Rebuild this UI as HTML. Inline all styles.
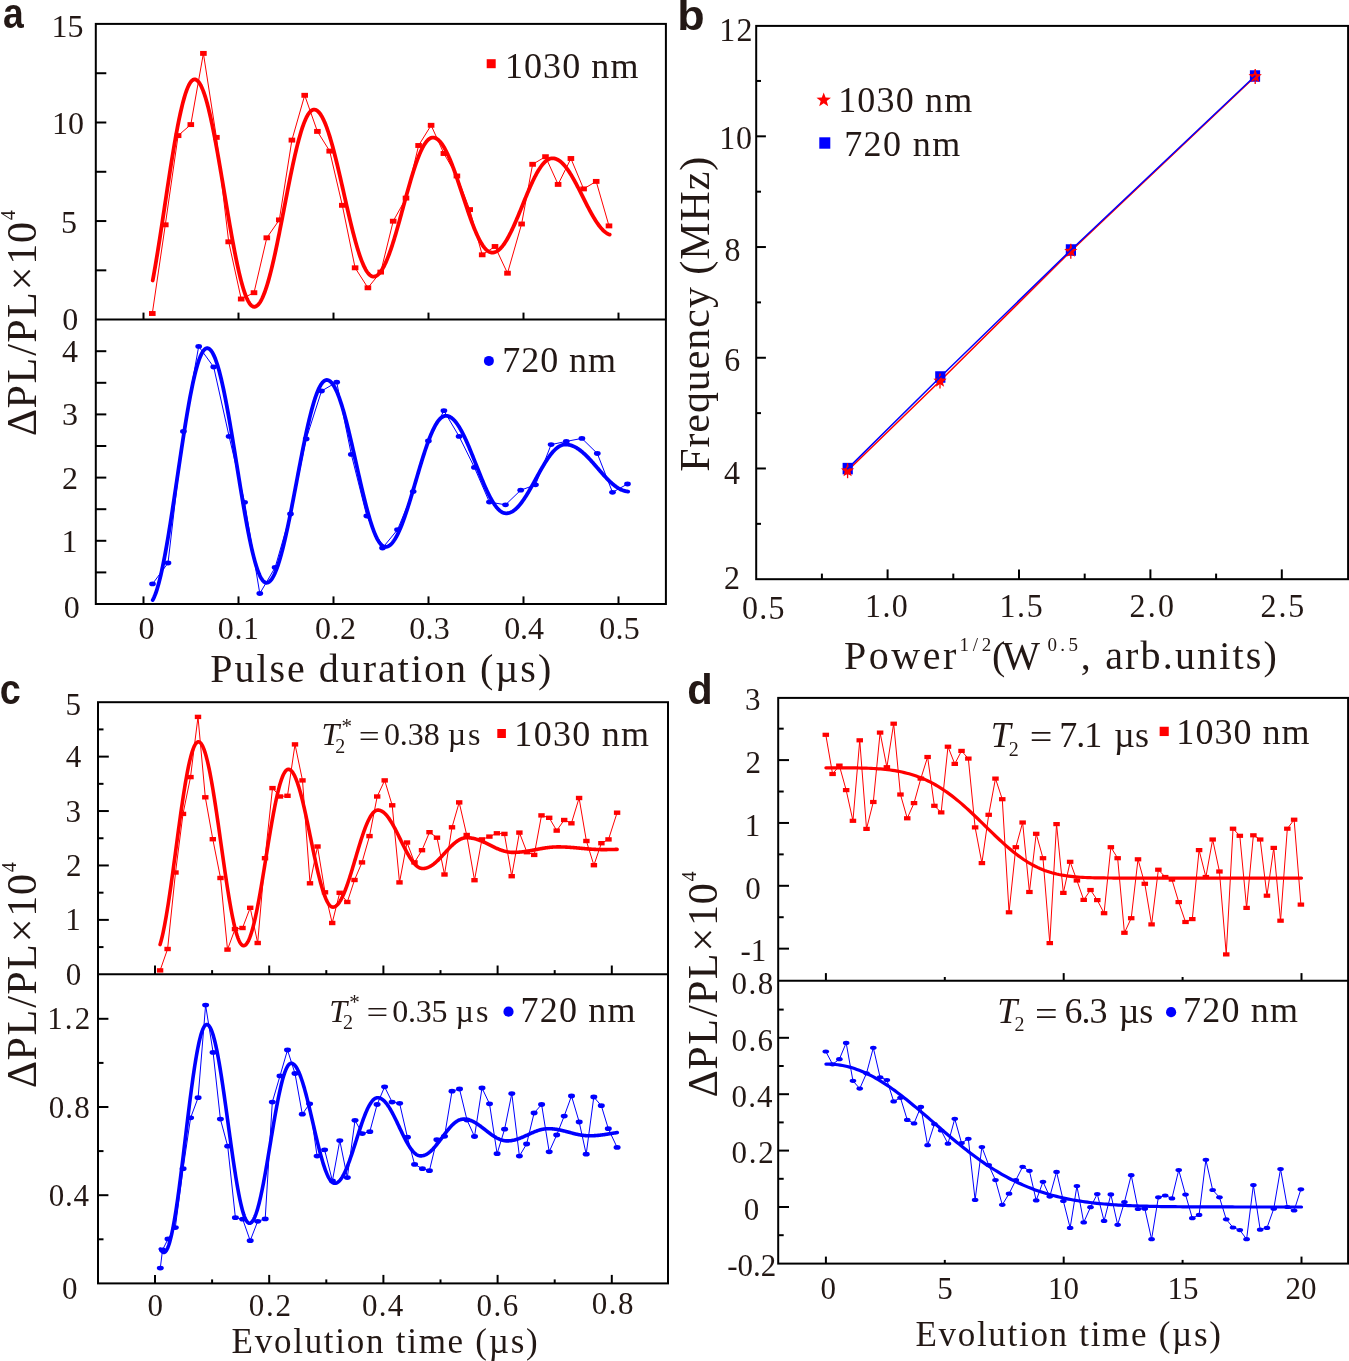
<!DOCTYPE html>
<html><head><meta charset="utf-8"><title>Figure</title>
<style>html,body{margin:0;padding:0;background:#fff;width:1349px;height:1361px;overflow:hidden}svg{display:block;will-change:transform}</style>
</head><body>
<svg width="1349" height="1361" viewBox="0 0 1349 1361">
<rect width="1349" height="1361" fill="#ffffff"/>
<path d="M152.3 313.5 L165.3 224.8 L178.1 135.6 L190.8 124.6 L203.4 53.4 L216.4 137.4 L228.7 241.8 L241.2 299 L254 292.7 L266.8 237.8 L279.3 219.9 L291.9 140.1 L304.7 95.3 L317.4 131.4 L329.7 151.1 L342.3 205.3 L355.1 267.8 L367.9 287.8 L380.7 272.1 L393.2 221.2 L406 198.1 L418.6 145.5 L431.1 125.3 L443.9 153.5 L456.9 176 L469.7 209.6 L482.2 254.8 L495 246.5 L507.5 273.2 L521.6 224 L532.6 164.3 L545.5 156.7 L558.1 184.4 L570.9 158.5 L583.6 188.9 L596.2 181.4 L609 225.9" fill="none" stroke="#ff0000" stroke-width="1" stroke-linejoin="round" stroke-linecap="round"/>
<path d="M152.7 280.5 L153.2 277.81 L153.7 275.06 L154.2 272.27 L154.7 269.43 L155.2 266.55 L155.7 263.62 L156.2 260.65 L156.7 257.65 L157.2 254.61 L157.7 251.53 L158.2 248.42 L158.7 245.29 L159.2 242.12 L159.7 238.93 L160.2 235.71 L160.7 232.48 L161.2 229.23 L161.7 225.96 L162.2 222.67 L162.7 219.37 L163.2 216.07 L163.7 212.75 L164.2 209.44 L164.7 206.11 L165.2 202.79 L165.7 199.47 L166.2 196.16 L166.7 192.85 L167.2 189.55 L167.7 186.26 L168.2 182.98 L168.7 179.72 L169.2 176.48 L169.7 173.25 L170.2 170.05 L170.7 166.88 L171.2 163.73 L171.7 160.61 L172.2 157.52 L172.7 154.46 L173.2 151.44 L173.7 148.46 L174.2 145.52 L174.7 142.62 L175.2 139.76 L175.7 136.95 L176.2 134.18 L176.7 131.47 L177.2 128.8 L177.7 126.19 L178.2 123.64 L178.7 121.14 L179.2 118.7 L179.7 116.32 L180.2 114 L180.7 111.75 L181.2 109.56 L181.7 107.44 L182.2 105.38 L182.7 103.4 L183.2 101.48 L183.7 99.64 L184.2 97.87 L184.7 96.18 L185.2 94.56 L185.7 93.02 L186.2 91.56 L186.7 90.17 L187.2 88.87 L187.7 87.65 L188.2 86.5 L188.7 85.45 L189.2 84.47 L189.7 83.58 L190.2 82.78 L190.7 82.05 L191.2 81.42 L191.7 80.87 L192.2 80.41 L192.7 80.03 L193.2 79.74 L193.7 79.54 L194.2 79.43 L194.7 79.4 L195.2 79.46 L195.7 79.59 L196.2 79.8 L196.7 80.1 L197.2 80.47 L197.7 80.91 L198.2 81.44 L198.7 82.04 L199.2 82.73 L199.7 83.48 L200.2 84.32 L200.7 85.23 L201.2 86.21 L201.7 87.27 L202.2 88.4 L202.7 89.61 L203.2 90.88 L203.7 92.23 L204.2 93.65 L204.7 95.14 L205.2 96.69 L205.7 98.31 L206.2 100 L206.7 101.75 L207.2 103.57 L207.7 105.45 L208.2 107.39 L208.7 109.38 L209.2 111.44 L209.7 113.55 L210.2 115.72 L210.7 117.94 L211.2 120.22 L211.7 122.54 L212.2 124.92 L212.7 127.34 L213.2 129.81 L213.7 132.32 L214.2 134.87 L214.7 137.47 L215.2 140.1 L215.7 142.77 L216.2 145.47 L216.7 148.21 L217.2 150.98 L217.7 153.77 L218.2 156.6 L218.7 159.45 L219.2 162.32 L219.7 165.22 L220.2 168.13 L220.7 171.07 L221.2 174.01 L221.7 176.97 L222.2 179.94 L222.7 182.93 L223.2 185.91 L223.7 188.91 L224.2 191.9 L224.7 194.9 L225.2 197.89 L225.7 200.89 L226.2 203.87 L226.7 206.85 L227.2 209.82 L227.7 212.78 L228.2 215.72 L228.7 218.65 L229.2 221.56 L229.7 224.45 L230.2 227.32 L230.7 230.17 L231.2 232.99 L231.7 235.78 L232.2 238.54 L232.7 241.27 L233.2 243.97 L233.7 246.63 L234.2 249.26 L234.7 251.84 L235.2 254.39 L235.7 256.89 L236.2 259.35 L236.7 261.76 L237.2 264.12 L237.7 266.44 L238.2 268.7 L238.7 270.92 L239.2 273.07 L239.7 275.18 L240.2 277.22 L240.7 279.21 L241.2 281.13 L241.7 283 L242.2 284.8 L242.7 286.54 L243.2 288.22 L243.7 289.83 L244.2 291.37 L244.7 292.84 L245.2 294.24 L245.7 295.58 L246.2 296.84 L246.7 298.03 L247.2 299.15 L247.7 300.19 L248.2 301.16 L248.7 302.06 L249.2 302.87 L249.7 303.62 L250.2 304.28 L250.7 304.87 L251.2 305.38 L251.7 305.81 L252.2 306.17 L252.7 306.44 L253.2 306.64 L253.7 306.76 L254.2 306.8 L254.7 306.77 L255.2 306.66 L255.7 306.5 L256.2 306.26 L256.7 305.95 L257.2 305.58 L257.7 305.14 L258.2 304.64 L258.7 304.07 L259.2 303.43 L259.7 302.73 L260.2 301.96 L260.7 301.13 L261.2 300.23 L261.7 299.27 L262.2 298.25 L262.7 297.16 L263.2 296.02 L263.7 294.81 L264.2 293.55 L264.7 292.22 L265.2 290.84 L265.7 289.4 L266.2 287.91 L266.7 286.36 L267.2 284.76 L267.7 283.1 L268.2 281.39 L268.7 279.64 L269.2 277.83 L269.7 275.97 L270.2 274.07 L270.7 272.13 L271.2 270.14 L271.7 268.1 L272.2 266.03 L272.7 263.92 L273.2 261.76 L273.7 259.57 L274.2 257.35 L274.7 255.09 L275.2 252.8 L275.7 250.48 L276.2 248.13 L276.7 245.75 L277.2 243.35 L277.7 240.92 L278.2 238.47 L278.7 236 L279.2 233.51 L279.7 231 L280.2 228.48 L280.7 225.94 L281.2 223.39 L281.7 220.83 L282.2 218.27 L282.7 215.69 L283.2 213.11 L283.7 210.53 L284.2 207.94 L284.7 205.36 L285.2 202.77 L285.7 200.19 L286.2 197.62 L286.7 195.05 L287.2 192.49 L287.7 189.95 L288.2 187.41 L288.7 184.89 L289.2 182.39 L289.7 179.9 L290.2 177.44 L290.7 174.99 L291.2 172.57 L291.7 170.17 L292.2 167.8 L292.7 165.45 L293.2 163.14 L293.7 160.85 L294.2 158.6 L294.7 156.38 L295.2 154.2 L295.7 152.06 L296.2 149.95 L296.7 147.89 L297.2 145.86 L297.7 143.88 L298.2 141.94 L298.7 140.05 L299.2 138.21 L299.7 136.41 L300.2 134.66 L300.7 132.96 L301.2 131.32 L301.7 129.73 L302.2 128.19 L302.7 126.71 L303.2 125.28 L303.7 123.91 L304.2 122.6 L304.7 121.34 L305.2 120.15 L305.7 119.01 L306.2 117.94 L306.7 116.93 L307.2 115.99 L307.7 115.1 L308.2 114.28 L308.7 113.53 L309.2 112.84 L309.7 112.21 L310.2 111.66 L310.7 111.16 L311.2 110.74 L311.7 110.38 L312.2 110.09 L312.7 109.87 L313.2 109.71 L313.7 109.62 L314.2 109.6 L314.7 109.64 L315.2 109.74 L315.7 109.9 L316.2 110.11 L316.7 110.39 L317.2 110.72 L317.7 111.11 L318.2 111.56 L318.7 112.06 L319.2 112.62 L319.7 113.24 L320.2 113.91 L320.7 114.64 L321.2 115.42 L321.7 116.26 L322.2 117.15 L322.7 118.09 L323.2 119.09 L323.7 120.13 L324.2 121.23 L324.7 122.38 L325.2 123.58 L325.7 124.83 L326.2 126.12 L326.7 127.46 L327.2 128.85 L327.7 130.28 L328.2 131.76 L328.7 133.28 L329.2 134.84 L329.7 136.44 L330.2 138.09 L330.7 139.77 L331.2 141.48 L331.7 143.24 L332.2 145.03 L332.7 146.85 L333.2 148.7 L333.7 150.59 L334.2 152.5 L334.7 154.45 L335.2 156.42 L335.7 158.41 L336.2 160.43 L336.7 162.48 L337.2 164.54 L337.7 166.63 L338.2 168.73 L338.7 170.85 L339.2 172.99 L339.7 175.14 L340.2 177.3 L340.7 179.47 L341.2 181.65 L341.7 183.85 L342.2 186.04 L342.7 188.24 L343.2 190.45 L343.7 192.66 L344.2 194.87 L344.7 197.07 L345.2 199.28 L345.7 201.48 L346.2 203.67 L346.7 205.86 L347.2 208.03 L347.7 210.2 L348.2 212.36 L348.7 214.5 L349.2 216.62 L349.7 218.73 L350.2 220.83 L350.7 222.9 L351.2 224.95 L351.7 226.98 L352.2 228.99 L352.7 230.97 L353.2 232.92 L353.7 234.85 L354.2 236.75 L354.7 238.61 L355.2 240.45 L355.7 242.25 L356.2 244.02 L356.7 245.75 L357.2 247.45 L357.7 249.1 L358.2 250.72 L358.7 252.3 L359.2 253.84 L359.7 255.33 L360.2 256.78 L360.7 258.19 L361.2 259.55 L361.7 260.86 L362.2 262.13 L362.7 263.34 L363.2 264.51 L363.7 265.63 L364.2 266.7 L364.7 267.72 L365.2 268.68 L365.7 269.6 L366.2 270.45 L366.7 271.26 L367.2 272.01 L367.7 272.7 L368.2 273.34 L368.7 273.92 L369.2 274.45 L369.7 274.92 L370.2 275.33 L370.7 275.69 L371.2 275.98 L371.7 276.22 L372.2 276.4 L372.7 276.53 L373.2 276.59 L373.7 276.6 L374.2 276.55 L374.7 276.46 L375.2 276.32 L375.7 276.13 L376.2 275.89 L376.7 275.61 L377.2 275.27 L377.7 274.89 L378.2 274.46 L378.7 273.99 L379.2 273.47 L379.7 272.9 L380.2 272.28 L380.7 271.62 L381.2 270.92 L381.7 270.17 L382.2 269.37 L382.7 268.53 L383.2 267.65 L383.7 266.73 L384.2 265.77 L384.7 264.76 L385.2 263.71 L385.7 262.63 L386.2 261.5 L386.7 260.34 L387.2 259.14 L387.7 257.9 L388.2 256.63 L388.7 255.33 L389.2 253.99 L389.7 252.61 L390.2 251.21 L390.7 249.77 L391.2 248.31 L391.7 246.81 L392.2 245.29 L392.7 243.74 L393.2 242.17 L393.7 240.57 L394.2 238.95 L394.7 237.3 L395.2 235.64 L395.7 233.95 L396.2 232.25 L396.7 230.52 L397.2 228.79 L397.7 227.03 L398.2 225.27 L398.7 223.49 L399.2 221.69 L399.7 219.89 L400.2 218.08 L400.7 216.26 L401.2 214.44 L401.7 212.61 L402.2 210.77 L402.7 208.94 L403.2 207.1 L403.7 205.26 L404.2 203.43 L404.7 201.59 L405.2 199.76 L405.7 197.94 L406.2 196.12 L406.7 194.31 L407.2 192.51 L407.7 190.71 L408.2 188.93 L408.7 187.17 L409.2 185.41 L409.7 183.68 L410.2 181.95 L410.7 180.25 L411.2 178.56 L411.7 176.9 L412.2 175.25 L412.7 173.63 L413.2 172.03 L413.7 170.46 L414.2 168.91 L414.7 167.39 L415.2 165.89 L415.7 164.43 L416.2 162.99 L416.7 161.59 L417.2 160.21 L417.7 158.87 L418.2 157.57 L418.7 156.3 L419.2 155.06 L419.7 153.86 L420.2 152.7 L420.7 151.57 L421.2 150.49 L421.7 149.44 L422.2 148.43 L422.7 147.47 L423.2 146.55 L423.7 145.67 L424.2 144.83 L424.7 144.03 L425.2 143.28 L425.7 142.58 L426.2 141.92 L426.7 141.3 L427.2 140.73 L427.7 140.21 L428.2 139.74 L428.7 139.31 L429.2 138.93 L429.7 138.59 L430.2 138.31 L430.7 138.07 L431.2 137.88 L431.7 137.74 L432.2 137.65 L432.7 137.6 L433.2 137.61 L433.7 137.65 L434.2 137.74 L434.7 137.86 L435.2 138.02 L435.7 138.23 L436.2 138.47 L436.7 138.76 L437.2 139.08 L437.7 139.44 L438.2 139.84 L438.7 140.28 L439.2 140.76 L439.7 141.28 L440.2 141.83 L440.7 142.42 L441.2 143.05 L441.7 143.72 L442.2 144.42 L442.7 145.15 L443.2 145.92 L443.7 146.73 L444.2 147.57 L444.7 148.44 L445.2 149.34 L445.7 150.28 L446.2 151.25 L446.7 152.25 L447.2 153.28 L447.7 154.33 L448.2 155.42 L448.7 156.53 L449.2 157.68 L449.7 158.84 L450.2 160.04 L450.7 161.25 L451.2 162.49 L451.7 163.76 L452.2 165.04 L452.7 166.35 L453.2 167.68 L453.7 169.02 L454.2 170.39 L454.7 171.77 L455.2 173.17 L455.7 174.58 L456.2 176.01 L456.7 177.45 L457.2 178.9 L457.7 180.36 L458.2 181.84 L458.7 183.32 L459.2 184.82 L459.7 186.32 L460.2 187.82 L460.7 189.33 L461.2 190.85 L461.7 192.36 L462.2 193.88 L462.7 195.4 L463.2 196.92 L463.7 198.44 L464.2 199.96 L464.7 201.47 L465.2 202.98 L465.7 204.49 L466.2 205.98 L466.7 207.47 L467.2 208.95 L467.7 210.42 L468.2 211.88 L468.7 213.33 L469.2 214.77 L469.7 216.19 L470.2 217.6 L470.7 218.99 L471.2 220.36 L471.7 221.72 L472.2 223.06 L472.7 224.38 L473.2 225.67 L473.7 226.95 L474.2 228.21 L474.7 229.44 L475.2 230.64 L475.7 231.83 L476.2 232.98 L476.7 234.11 L477.2 235.22 L477.7 236.29 L478.2 237.34 L478.7 238.36 L479.2 239.34 L479.7 240.3 L480.2 241.22 L480.7 242.11 L481.2 242.97 L481.7 243.8 L482.2 244.59 L482.7 245.35 L483.2 246.07 L483.7 246.75 L484.2 247.4 L484.7 248.02 L485.2 248.59 L485.7 249.13 L486.2 249.63 L486.7 250.1 L487.2 250.52 L487.7 250.91 L488.2 251.25 L488.7 251.56 L489.2 251.83 L489.7 252.06 L490.2 252.25 L490.7 252.39 L491.2 252.5 L491.7 252.57 L492.2 252.6 L492.7 252.59 L493.2 252.55 L493.7 252.47 L494.2 252.37 L494.7 252.23 L495.2 252.06 L495.7 251.86 L496.2 251.63 L496.7 251.36 L497.2 251.07 L497.7 250.74 L498.2 250.38 L498.7 249.99 L499.2 249.58 L499.7 249.13 L500.2 248.65 L500.7 248.14 L501.2 247.61 L501.7 247.04 L502.2 246.45 L502.7 245.82 L503.2 245.18 L503.7 244.5 L504.2 243.8 L504.7 243.07 L505.2 242.31 L505.7 241.53 L506.2 240.73 L506.7 239.9 L507.2 239.05 L507.7 238.18 L508.2 237.28 L508.7 236.36 L509.2 235.42 L509.7 234.46 L510.2 233.48 L510.7 232.48 L511.2 231.47 L511.7 230.43 L512.2 229.38 L512.7 228.31 L513.2 227.23 L513.7 226.13 L514.2 225.02 L514.7 223.89 L515.2 222.75 L515.7 221.6 L516.2 220.44 L516.7 219.27 L517.2 218.09 L517.7 216.9 L518.2 215.7 L518.7 214.5 L519.2 213.29 L519.7 212.07 L520.2 210.85 L520.7 209.63 L521.2 208.4 L521.7 207.17 L522.2 205.94 L522.7 204.71 L523.2 203.48 L523.7 202.25 L524.2 201.03 L524.7 199.8 L525.2 198.58 L525.7 197.37 L526.2 196.16 L526.7 194.96 L527.2 193.76 L527.7 192.57 L528.2 191.4 L528.7 190.23 L529.2 189.07 L529.7 187.92 L530.2 186.78 L530.7 185.66 L531.2 184.55 L531.7 183.45 L532.2 182.37 L532.7 181.31 L533.2 180.26 L533.7 179.23 L534.2 178.22 L534.7 177.22 L535.2 176.25 L535.7 175.29 L536.2 174.35 L536.7 173.44 L537.2 172.55 L537.7 171.68 L538.2 170.83 L538.7 170.01 L539.2 169.21 L539.7 168.43 L540.2 167.68 L540.7 166.96 L541.2 166.26 L541.7 165.59 L542.2 164.95 L542.7 164.33 L543.2 163.74 L543.7 163.19 L544.2 162.65 L544.7 162.15 L545.2 161.68 L545.7 161.24 L546.2 160.83 L546.7 160.44 L547.2 160.09 L547.7 159.77 L548.2 159.48 L548.7 159.22 L549.2 159 L549.7 158.8 L550.2 158.64 L550.7 158.51 L551.2 158.41 L551.7 158.34 L552.2 158.31 L552.7 158.3 L553.2 158.33 L553.7 158.37 L554.2 158.45 L554.7 158.55 L555.2 158.68 L555.7 158.83 L556.2 159.01 L556.7 159.21 L557.2 159.44 L557.7 159.69 L558.2 159.97 L558.7 160.28 L559.2 160.6 L559.7 160.96 L560.2 161.33 L560.7 161.73 L561.2 162.16 L561.7 162.6 L562.2 163.08 L562.7 163.57 L563.2 164.08 L563.7 164.62 L564.2 165.18 L564.7 165.76 L565.2 166.36 L565.7 166.98 L566.2 167.63 L566.7 168.29 L567.2 168.97 L567.7 169.67 L568.2 170.39 L568.7 171.12 L569.2 171.87 L569.7 172.64 L570.2 173.43 L570.7 174.23 L571.2 175.05 L571.7 175.88 L572.2 176.72 L572.7 177.58 L573.2 178.45 L573.7 179.34 L574.2 180.23 L574.7 181.14 L575.2 182.06 L575.7 182.99 L576.2 183.92 L576.7 184.87 L577.2 185.82 L577.7 186.78 L578.2 187.75 L578.7 188.72 L579.2 189.7 L579.7 190.69 L580.2 191.67 L580.7 192.66 L581.2 193.66 L581.7 194.65 L582.2 195.65 L582.7 196.65 L583.2 197.65 L583.7 198.65 L584.2 199.64 L584.7 200.64 L585.2 201.63 L585.7 202.62 L586.2 203.6 L586.7 204.58 L587.2 205.56 L587.7 206.52 L588.2 207.49 L588.7 208.44 L589.2 209.39 L589.7 210.33 L590.2 211.26 L590.7 212.18 L591.2 213.09 L591.7 213.98 L592.2 214.87 L592.7 215.74 L593.2 216.61 L593.7 217.45 L594.2 218.29 L594.7 219.11 L595.2 219.91 L595.7 220.7 L596.2 221.47 L596.7 222.23 L597.2 222.97 L597.7 223.69 L598.2 224.39 L598.7 225.08 L599.2 225.74 L599.7 226.39 L600.2 227.01 L600.7 227.62 L601.2 228.2 L601.7 228.77 L602.2 229.31 L602.7 229.83 L603.2 230.33 L603.7 230.8 L604.2 231.25 L604.7 231.68 L605.2 232.09 L605.7 232.47 L606.2 232.83 L606.7 233.16 L607.2 233.47 L607.7 233.75 L608.2 234.01 L608.7 234.25 L609.2 234.45 L609.7 234.64" fill="none" stroke="#ff0000" stroke-width="3.8" stroke-linejoin="round" stroke-linecap="round"/>
<rect x="149" y="311.05" width="6.6" height="4.9" fill="#ff0000"/>
<rect x="162" y="222.35" width="6.6" height="4.9" fill="#ff0000"/>
<rect x="174.8" y="133.15" width="6.6" height="4.9" fill="#ff0000"/>
<rect x="187.5" y="122.15" width="6.6" height="4.9" fill="#ff0000"/>
<rect x="200.1" y="50.95" width="6.6" height="4.9" fill="#ff0000"/>
<rect x="213.1" y="134.95" width="6.6" height="4.9" fill="#ff0000"/>
<rect x="225.4" y="239.35" width="6.6" height="4.9" fill="#ff0000"/>
<rect x="237.9" y="296.55" width="6.6" height="4.9" fill="#ff0000"/>
<rect x="250.7" y="290.25" width="6.6" height="4.9" fill="#ff0000"/>
<rect x="263.5" y="235.35" width="6.6" height="4.9" fill="#ff0000"/>
<rect x="276" y="217.45" width="6.6" height="4.9" fill="#ff0000"/>
<rect x="288.6" y="137.65" width="6.6" height="4.9" fill="#ff0000"/>
<rect x="301.4" y="92.85" width="6.6" height="4.9" fill="#ff0000"/>
<rect x="314.1" y="128.95" width="6.6" height="4.9" fill="#ff0000"/>
<rect x="326.4" y="148.65" width="6.6" height="4.9" fill="#ff0000"/>
<rect x="339" y="202.85" width="6.6" height="4.9" fill="#ff0000"/>
<rect x="351.8" y="265.35" width="6.6" height="4.9" fill="#ff0000"/>
<rect x="364.6" y="285.35" width="6.6" height="4.9" fill="#ff0000"/>
<rect x="377.4" y="269.65" width="6.6" height="4.9" fill="#ff0000"/>
<rect x="389.9" y="218.75" width="6.6" height="4.9" fill="#ff0000"/>
<rect x="402.7" y="195.65" width="6.6" height="4.9" fill="#ff0000"/>
<rect x="415.3" y="143.05" width="6.6" height="4.9" fill="#ff0000"/>
<rect x="427.8" y="122.85" width="6.6" height="4.9" fill="#ff0000"/>
<rect x="440.6" y="151.05" width="6.6" height="4.9" fill="#ff0000"/>
<rect x="453.6" y="173.55" width="6.6" height="4.9" fill="#ff0000"/>
<rect x="466.4" y="207.15" width="6.6" height="4.9" fill="#ff0000"/>
<rect x="478.9" y="252.35" width="6.6" height="4.9" fill="#ff0000"/>
<rect x="491.7" y="244.05" width="6.6" height="4.9" fill="#ff0000"/>
<rect x="504.2" y="270.75" width="6.6" height="4.9" fill="#ff0000"/>
<rect x="518.3" y="221.55" width="6.6" height="4.9" fill="#ff0000"/>
<rect x="529.3" y="161.85" width="6.6" height="4.9" fill="#ff0000"/>
<rect x="542.2" y="154.25" width="6.6" height="4.9" fill="#ff0000"/>
<rect x="554.8" y="181.95" width="6.6" height="4.9" fill="#ff0000"/>
<rect x="567.6" y="156.05" width="6.6" height="4.9" fill="#ff0000"/>
<rect x="580.3" y="186.45" width="6.6" height="4.9" fill="#ff0000"/>
<rect x="592.9" y="178.95" width="6.6" height="4.9" fill="#ff0000"/>
<rect x="605.7" y="223.45" width="6.6" height="4.9" fill="#ff0000"/>
<path d="M152.5 583.9 L168 563 L183.4 431.5 L198.7 346.4 L213.7 367 L229.1 436.4 L244.6 502.3 L259.8 593.5 L275.1 567.5 L290.5 514 L306.2 438.9 L321.5 391 L336.7 382.2 L351.3 454.4 L366.8 516 L382.5 548 L397.5 529.7 L413.2 491.6 L428.4 440.9 L443.9 410.7 L459.1 436.4 L474.4 467.4 L489.4 502.1 L505.5 504.8 L520.7 490.2 L535.5 484.8 L551.1 444.6 L566.3 441.4 L581.9 438.4 L597.3 453.5 L612.5 492.3 L627.5 484" fill="none" stroke="#0000ff" stroke-width="1" stroke-linejoin="round" stroke-linecap="round"/>
<path d="M152.7 600.06 L153.2 599.13 L153.7 598.12 L154.2 597.03 L154.7 595.85 L155.2 594.58 L155.7 593.24 L156.2 591.81 L156.7 590.3 L157.2 588.71 L157.7 587.05 L158.2 585.31 L158.7 583.49 L159.2 581.59 L159.7 579.63 L160.2 577.59 L160.7 575.48 L161.2 573.3 L161.7 571.05 L162.2 568.74 L162.7 566.37 L163.2 563.93 L163.7 561.43 L164.2 558.87 L164.7 556.25 L165.2 553.58 L165.7 550.85 L166.2 548.07 L166.7 545.24 L167.2 542.37 L167.7 539.45 L168.2 536.48 L168.7 533.47 L169.2 530.42 L169.7 527.34 L170.2 524.22 L170.7 521.06 L171.2 517.88 L171.7 514.66 L172.2 511.42 L172.7 508.15 L173.2 504.87 L173.7 501.56 L174.2 498.23 L174.7 494.89 L175.2 491.54 L175.7 488.17 L176.2 484.8 L176.7 481.42 L177.2 478.04 L177.7 474.66 L178.2 471.28 L178.7 467.9 L179.2 464.53 L179.7 461.16 L180.2 457.81 L180.7 454.47 L181.2 451.14 L181.7 447.83 L182.2 444.55 L182.7 441.28 L183.2 438.04 L183.7 434.82 L184.2 431.64 L184.7 428.48 L185.2 425.36 L185.7 422.28 L186.2 419.23 L186.7 416.22 L187.2 413.25 L187.7 410.33 L188.2 407.46 L188.7 404.63 L189.2 401.85 L189.7 399.12 L190.2 396.45 L190.7 393.83 L191.2 391.27 L191.7 388.77 L192.2 386.33 L192.7 383.96 L193.2 381.65 L193.7 379.4 L194.2 377.22 L194.7 375.11 L195.2 373.07 L195.7 371.11 L196.2 369.21 L196.7 367.39 L197.2 365.65 L197.7 363.99 L198.2 362.4 L198.7 360.89 L199.2 359.46 L199.7 358.12 L200.2 356.85 L200.7 355.67 L201.2 354.58 L201.7 353.57 L202.2 352.64 L202.7 351.8 L203.2 351.05 L203.7 350.38 L204.2 349.8 L204.7 349.31 L205.2 348.91 L205.7 348.6 L206.2 348.38 L206.7 348.24 L207.2 348.2 L207.7 348.24 L208.2 348.36 L208.7 348.57 L209.2 348.86 L209.7 349.23 L210.2 349.68 L210.7 350.21 L211.2 350.82 L211.7 351.52 L212.2 352.29 L212.7 353.14 L213.2 354.08 L213.7 355.09 L214.2 356.17 L214.7 357.34 L215.2 358.58 L215.7 359.89 L216.2 361.28 L216.7 362.75 L217.2 364.28 L217.7 365.89 L218.2 367.56 L218.7 369.3 L219.2 371.12 L219.7 372.99 L220.2 374.94 L220.7 376.94 L221.2 379.01 L221.7 381.14 L222.2 383.33 L222.7 385.57 L223.2 387.88 L223.7 390.23 L224.2 392.64 L224.7 395.1 L225.2 397.61 L225.7 400.17 L226.2 402.77 L226.7 405.42 L227.2 408.11 L227.7 410.84 L228.2 413.61 L228.7 416.41 L229.2 419.25 L229.7 422.12 L230.2 425.02 L230.7 427.95 L231.2 430.91 L231.7 433.89 L232.2 436.89 L232.7 439.92 L233.2 442.96 L233.7 446.02 L234.2 449.09 L234.7 452.17 L235.2 455.26 L235.7 458.36 L236.2 461.46 L236.7 464.57 L237.2 467.67 L237.7 470.78 L238.2 473.88 L238.7 476.98 L239.2 480.07 L239.7 483.14 L240.2 486.21 L240.7 489.26 L241.2 492.29 L241.7 495.31 L242.2 498.3 L242.7 501.27 L243.2 504.22 L243.7 507.14 L244.2 510.03 L244.7 512.89 L245.2 515.71 L245.7 518.5 L246.2 521.26 L246.7 523.97 L247.2 526.64 L247.7 529.27 L248.2 531.86 L248.7 534.4 L249.2 536.89 L249.7 539.33 L250.2 541.72 L250.7 544.05 L251.2 546.33 L251.7 548.55 L252.2 550.72 L252.7 552.82 L253.2 554.87 L253.7 556.85 L254.2 558.76 L254.7 560.62 L255.2 562.4 L255.7 564.12 L256.2 565.77 L256.7 567.34 L257.2 568.85 L257.7 570.28 L258.2 571.64 L258.7 572.93 L259.2 574.14 L259.7 575.27 L260.2 576.33 L260.7 577.31 L261.2 578.21 L261.7 579.03 L262.2 579.77 L262.7 580.43 L263.2 581.01 L263.7 581.51 L264.2 581.93 L264.7 582.27 L265.2 582.52 L265.7 582.69 L266.2 582.79 L266.7 582.79 L267.2 582.73 L267.7 582.6 L268.2 582.4 L268.7 582.13 L269.2 581.8 L269.7 581.39 L270.2 580.92 L270.7 580.38 L271.2 579.78 L271.7 579.1 L272.2 578.36 L272.7 577.56 L273.2 576.68 L273.7 575.75 L274.2 574.75 L274.7 573.69 L275.2 572.56 L275.7 571.37 L276.2 570.12 L276.7 568.82 L277.2 567.45 L277.7 566.02 L278.2 564.54 L278.7 563 L279.2 561.4 L279.7 559.75 L280.2 558.05 L280.7 556.29 L281.2 554.49 L281.7 552.63 L282.2 550.73 L282.7 548.78 L283.2 546.78 L283.7 544.74 L284.2 542.66 L284.7 540.53 L285.2 538.36 L285.7 536.16 L286.2 533.92 L286.7 531.64 L287.2 529.33 L287.7 526.99 L288.2 524.61 L288.7 522.21 L289.2 519.78 L289.7 517.32 L290.2 514.84 L290.7 512.33 L291.2 509.81 L291.7 507.26 L292.2 504.7 L292.7 502.12 L293.2 499.53 L293.7 496.92 L294.2 494.31 L294.7 491.68 L295.2 489.05 L295.7 486.42 L296.2 483.78 L296.7 481.14 L297.2 478.49 L297.7 475.86 L298.2 473.22 L298.7 470.59 L299.2 467.97 L299.7 465.35 L300.2 462.75 L300.7 460.16 L301.2 457.59 L301.7 455.03 L302.2 452.49 L302.7 449.97 L303.2 447.46 L303.7 444.99 L304.2 442.53 L304.7 440.11 L305.2 437.71 L305.7 435.34 L306.2 433 L306.7 430.7 L307.2 428.43 L307.7 426.2 L308.2 424 L308.7 421.84 L309.2 419.72 L309.7 417.65 L310.2 415.62 L310.7 413.63 L311.2 411.69 L311.7 409.79 L312.2 407.95 L312.7 406.15 L313.2 404.41 L313.7 402.71 L314.2 401.07 L314.7 399.49 L315.2 397.96 L315.7 396.49 L316.2 395.07 L316.7 393.72 L317.2 392.42 L317.7 391.18 L318.2 390.01 L318.7 388.9 L319.2 387.85 L319.7 386.86 L320.2 385.94 L320.7 385.08 L321.2 384.29 L321.7 383.56 L322.2 382.9 L322.7 382.3 L323.2 381.78 L323.7 381.32 L324.2 380.93 L324.7 380.61 L325.2 380.35 L325.7 380.17 L326.2 380.05 L326.7 380 L327.2 380.02 L327.7 380.1 L328.2 380.23 L328.7 380.43 L329.2 380.69 L329.7 381 L330.2 381.38 L330.7 381.81 L331.2 382.3 L331.7 382.85 L332.2 383.46 L332.7 384.13 L333.2 384.85 L333.7 385.63 L334.2 386.46 L334.7 387.35 L335.2 388.29 L335.7 389.29 L336.2 390.34 L336.7 391.44 L337.2 392.6 L337.7 393.8 L338.2 395.06 L338.7 396.36 L339.2 397.71 L339.7 399.11 L340.2 400.56 L340.7 402.05 L341.2 403.58 L341.7 405.16 L342.2 406.78 L342.7 408.43 L343.2 410.13 L343.7 411.87 L344.2 413.64 L344.7 415.45 L345.2 417.3 L345.7 419.17 L346.2 421.08 L346.7 423.02 L347.2 424.99 L347.7 426.98 L348.2 429.01 L348.7 431.05 L349.2 433.12 L349.7 435.21 L350.2 437.32 L350.7 439.45 L351.2 441.6 L351.7 443.76 L352.2 445.94 L352.7 448.13 L353.2 450.33 L353.7 452.54 L354.2 454.76 L354.7 456.98 L355.2 459.21 L355.7 461.44 L356.2 463.67 L356.7 465.91 L357.2 468.14 L357.7 470.36 L358.2 472.59 L358.7 474.8 L359.2 477.01 L359.7 479.21 L360.2 481.4 L360.7 483.57 L361.2 485.73 L361.7 487.87 L362.2 490 L362.7 492.11 L363.2 494.19 L363.7 496.26 L364.2 498.3 L364.7 500.32 L365.2 502.31 L365.7 504.27 L366.2 506.2 L366.7 508.1 L367.2 509.97 L367.7 511.81 L368.2 513.61 L368.7 515.38 L369.2 517.11 L369.7 518.8 L370.2 520.45 L370.7 522.06 L371.2 523.63 L371.7 525.16 L372.2 526.64 L372.7 528.07 L373.2 529.46 L373.7 530.8 L374.2 532.1 L374.7 533.34 L375.2 534.54 L375.7 535.68 L376.2 536.77 L376.7 537.81 L377.2 538.8 L377.7 539.73 L378.2 540.61 L378.7 541.43 L379.2 542.2 L379.7 542.91 L380.2 543.57 L380.7 544.16 L381.2 544.7 L381.7 545.18 L382.2 545.6 L382.7 545.96 L383.2 546.27 L383.7 546.51 L384.2 546.7 L384.7 546.82 L385.2 546.89 L385.7 546.9 L386.2 546.86 L386.7 546.77 L387.2 546.64 L387.7 546.47 L388.2 546.25 L388.7 545.99 L389.2 545.69 L389.7 545.34 L390.2 544.95 L390.7 544.52 L391.2 544.04 L391.7 543.52 L392.2 542.96 L392.7 542.36 L393.2 541.71 L393.7 541.03 L394.2 540.3 L394.7 539.54 L395.2 538.73 L395.7 537.89 L396.2 537.01 L396.7 536.09 L397.2 535.13 L397.7 534.14 L398.2 533.11 L398.7 532.05 L399.2 530.95 L399.7 529.82 L400.2 528.66 L400.7 527.46 L401.2 526.23 L401.7 524.97 L402.2 523.69 L402.7 522.37 L403.2 521.03 L403.7 519.66 L404.2 518.26 L404.7 516.84 L405.2 515.4 L405.7 513.93 L406.2 512.44 L406.7 510.93 L407.2 509.4 L407.7 507.85 L408.2 506.28 L408.7 504.69 L409.2 503.09 L409.7 501.48 L410.2 499.85 L410.7 498.21 L411.2 496.55 L411.7 494.89 L412.2 493.22 L412.7 491.54 L413.2 489.85 L413.7 488.16 L414.2 486.46 L414.7 484.76 L415.2 483.05 L415.7 481.35 L416.2 479.65 L416.7 477.94 L417.2 476.24 L417.7 474.54 L418.2 472.85 L418.7 471.16 L419.2 469.48 L419.7 467.81 L420.2 466.15 L420.7 464.49 L421.2 462.85 L421.7 461.22 L422.2 459.61 L422.7 458.01 L423.2 456.42 L423.7 454.85 L424.2 453.3 L424.7 451.77 L425.2 450.26 L425.7 448.77 L426.2 447.3 L426.7 445.86 L427.2 444.44 L427.7 443.04 L428.2 441.67 L428.7 440.33 L429.2 439.01 L429.7 437.73 L430.2 436.47 L430.7 435.24 L431.2 434.04 L431.7 432.88 L432.2 431.75 L432.7 430.65 L433.2 429.59 L433.7 428.56 L434.2 427.57 L434.7 426.61 L435.2 425.69 L435.7 424.81 L436.2 423.97 L436.7 423.16 L437.2 422.4 L437.7 421.67 L438.2 420.99 L438.7 420.34 L439.2 419.74 L439.7 419.18 L440.2 418.66 L440.7 418.18 L441.2 417.75 L441.7 417.36 L442.2 417.01 L442.7 416.71 L443.2 416.45 L443.7 416.23 L444.2 416.06 L444.7 415.93 L445.2 415.84 L445.7 415.8 L446.2 415.81 L446.7 415.84 L447.2 415.91 L447.7 416.01 L448.2 416.15 L448.7 416.32 L449.2 416.52 L449.7 416.75 L450.2 417.02 L450.7 417.32 L451.2 417.65 L451.7 418.01 L452.2 418.4 L452.7 418.83 L453.2 419.28 L453.7 419.77 L454.2 420.29 L454.7 420.83 L455.2 421.41 L455.7 422.02 L456.2 422.65 L456.7 423.32 L457.2 424.01 L457.7 424.73 L458.2 425.47 L458.7 426.24 L459.2 427.04 L459.7 427.87 L460.2 428.72 L460.7 429.59 L461.2 430.48 L461.7 431.4 L462.2 432.35 L462.7 433.31 L463.2 434.3 L463.7 435.3 L464.2 436.33 L464.7 437.37 L465.2 438.44 L465.7 439.52 L466.2 440.62 L466.7 441.73 L467.2 442.86 L467.7 444 L468.2 445.16 L468.7 446.34 L469.2 447.52 L469.7 448.71 L470.2 449.92 L470.7 451.14 L471.2 452.36 L471.7 453.6 L472.2 454.84 L472.7 456.08 L473.2 457.34 L473.7 458.6 L474.2 459.86 L474.7 461.12 L475.2 462.39 L475.7 463.66 L476.2 464.93 L476.7 466.2 L477.2 467.47 L477.7 468.74 L478.2 470 L478.7 471.26 L479.2 472.51 L479.7 473.76 L480.2 475.01 L480.7 476.25 L481.2 477.47 L481.7 478.69 L482.2 479.9 L482.7 481.1 L483.2 482.29 L483.7 483.47 L484.2 484.63 L484.7 485.78 L485.2 486.92 L485.7 488.04 L486.2 489.14 L486.7 490.23 L487.2 491.3 L487.7 492.36 L488.2 493.39 L488.7 494.4 L489.2 495.4 L489.7 496.37 L490.2 497.32 L490.7 498.25 L491.2 499.16 L491.7 500.04 L492.2 500.9 L492.7 501.73 L493.2 502.54 L493.7 503.32 L494.2 504.08 L494.7 504.81 L495.2 505.51 L495.7 506.19 L496.2 506.83 L496.7 507.45 L497.2 508.04 L497.7 508.6 L498.2 509.13 L498.7 509.63 L499.2 510.09 L499.7 510.53 L500.2 510.94 L500.7 511.31 L501.2 511.66 L501.7 511.97 L502.2 512.25 L502.7 512.49 L503.2 512.71 L503.7 512.89 L504.2 513.04 L504.7 513.15 L505.2 513.23 L505.7 513.28 L506.2 513.3 L506.7 513.29 L507.2 513.25 L507.7 513.19 L508.2 513.11 L508.7 513 L509.2 512.87 L509.7 512.71 L510.2 512.53 L510.7 512.33 L511.2 512.1 L511.7 511.85 L512.2 511.58 L512.7 511.28 L513.2 510.96 L513.7 510.62 L514.2 510.26 L514.7 509.87 L515.2 509.46 L515.7 509.03 L516.2 508.58 L516.7 508.11 L517.2 507.62 L517.7 507.11 L518.2 506.58 L518.7 506.03 L519.2 505.46 L519.7 504.87 L520.2 504.26 L520.7 503.64 L521.2 503 L521.7 502.34 L522.2 501.66 L522.7 500.97 L523.2 500.27 L523.7 499.54 L524.2 498.81 L524.7 498.06 L525.2 497.3 L525.7 496.52 L526.2 495.73 L526.7 494.93 L527.2 494.12 L527.7 493.3 L528.2 492.46 L528.7 491.62 L529.2 490.77 L529.7 489.91 L530.2 489.04 L530.7 488.17 L531.2 487.29 L531.7 486.4 L532.2 485.51 L532.7 484.61 L533.2 483.71 L533.7 482.81 L534.2 481.9 L534.7 480.99 L535.2 480.08 L535.7 479.17 L536.2 478.26 L536.7 477.35 L537.2 476.44 L537.7 475.53 L538.2 474.63 L538.7 473.73 L539.2 472.83 L539.7 471.93 L540.2 471.04 L540.7 470.16 L541.2 469.28 L541.7 468.41 L542.2 467.54 L542.7 466.69 L543.2 465.84 L543.7 465 L544.2 464.17 L544.7 463.36 L545.2 462.55 L545.7 461.75 L546.2 460.97 L546.7 460.2 L547.2 459.44 L547.7 458.69 L548.2 457.96 L548.7 457.25 L549.2 456.55 L549.7 455.86 L550.2 455.2 L550.7 454.54 L551.2 453.91 L551.7 453.29 L552.2 452.69 L552.7 452.11 L553.2 451.55 L553.7 451.01 L554.2 450.48 L554.7 449.98 L555.2 449.5 L555.7 449.03 L556.2 448.59 L556.7 448.17 L557.2 447.77 L557.7 447.4 L558.2 447.04 L558.7 446.71 L559.2 446.4 L559.7 446.11 L560.2 445.85 L560.7 445.61 L561.2 445.39 L561.7 445.19 L562.2 445.02 L562.7 444.88 L563.2 444.76 L563.7 444.66 L564.2 444.58 L564.7 444.53 L565.2 444.5 L565.7 444.5 L566.2 444.51 L566.7 444.54 L567.2 444.58 L567.7 444.64 L568.2 444.71 L568.7 444.79 L569.2 444.89 L569.7 445 L570.2 445.12 L570.7 445.26 L571.2 445.42 L571.7 445.58 L572.2 445.76 L572.7 445.96 L573.2 446.16 L573.7 446.38 L574.2 446.62 L574.7 446.86 L575.2 447.12 L575.7 447.39 L576.2 447.67 L576.7 447.97 L577.2 448.28 L577.7 448.6 L578.2 448.93 L578.7 449.27 L579.2 449.63 L579.7 449.99 L580.2 450.37 L580.7 450.76 L581.2 451.15 L581.7 451.56 L582.2 451.98 L582.7 452.41 L583.2 452.84 L583.7 453.29 L584.2 453.74 L584.7 454.21 L585.2 454.68 L585.7 455.16 L586.2 455.65 L586.7 456.14 L587.2 456.64 L587.7 457.15 L588.2 457.67 L588.7 458.19 L589.2 458.72 L589.7 459.25 L590.2 459.79 L590.7 460.33 L591.2 460.88 L591.7 461.44 L592.2 461.99 L592.7 462.55 L593.2 463.12 L593.7 463.68 L594.2 464.25 L594.7 464.82 L595.2 465.4 L595.7 465.97 L596.2 466.55 L596.7 467.13 L597.2 467.7 L597.7 468.28 L598.2 468.86 L598.7 469.44 L599.2 470.01 L599.7 470.59 L600.2 471.16 L600.7 471.73 L601.2 472.3 L601.7 472.87 L602.2 473.44 L602.7 474 L603.2 474.55 L603.7 475.11 L604.2 475.66 L604.7 476.2 L605.2 476.74 L605.7 477.28 L606.2 477.8 L606.7 478.33 L607.2 478.84 L607.7 479.35 L608.2 479.86 L608.7 480.35 L609.2 480.84 L609.7 481.33 L610.2 481.8 L610.7 482.26 L611.2 482.72 L611.7 483.17 L612.2 483.61 L612.7 484.04 L613.2 484.46 L613.7 484.87 L614.2 485.26 L614.7 485.65 L615.2 486.03 L615.7 486.4 L616.2 486.76 L616.7 487.1 L617.2 487.44 L617.7 487.76 L618.2 488.07 L618.7 488.37 L619.2 488.65 L619.7 488.93 L620.2 489.19 L620.7 489.44 L621.2 489.67 L621.7 489.89 L622.2 490.1 L622.7 490.3 L623.2 490.48 L623.7 490.65 L624.2 490.81 L624.7 490.95 L625.2 491.08 L625.7 491.19 L626.2 491.29 L626.7 491.38 L627.2 491.45 L627.7 491.51 L628.2 491.55" fill="none" stroke="#0000ff" stroke-width="3.8" stroke-linejoin="round" stroke-linecap="round"/>
<ellipse cx="152.5" cy="583.9" rx="3.35" ry="2.4" fill="#0000ff"/>
<ellipse cx="168" cy="563" rx="3.35" ry="2.4" fill="#0000ff"/>
<ellipse cx="183.4" cy="431.5" rx="3.35" ry="2.4" fill="#0000ff"/>
<ellipse cx="198.7" cy="346.4" rx="3.35" ry="2.4" fill="#0000ff"/>
<ellipse cx="213.7" cy="367" rx="3.35" ry="2.4" fill="#0000ff"/>
<ellipse cx="229.1" cy="436.4" rx="3.35" ry="2.4" fill="#0000ff"/>
<ellipse cx="244.6" cy="502.3" rx="3.35" ry="2.4" fill="#0000ff"/>
<ellipse cx="259.8" cy="593.5" rx="3.35" ry="2.4" fill="#0000ff"/>
<ellipse cx="275.1" cy="567.5" rx="3.35" ry="2.4" fill="#0000ff"/>
<ellipse cx="290.5" cy="514" rx="3.35" ry="2.4" fill="#0000ff"/>
<ellipse cx="306.2" cy="438.9" rx="3.35" ry="2.4" fill="#0000ff"/>
<ellipse cx="321.5" cy="391" rx="3.35" ry="2.4" fill="#0000ff"/>
<ellipse cx="336.7" cy="382.2" rx="3.35" ry="2.4" fill="#0000ff"/>
<ellipse cx="351.3" cy="454.4" rx="3.35" ry="2.4" fill="#0000ff"/>
<ellipse cx="366.8" cy="516" rx="3.35" ry="2.4" fill="#0000ff"/>
<ellipse cx="382.5" cy="548" rx="3.35" ry="2.4" fill="#0000ff"/>
<ellipse cx="397.5" cy="529.7" rx="3.35" ry="2.4" fill="#0000ff"/>
<ellipse cx="413.2" cy="491.6" rx="3.35" ry="2.4" fill="#0000ff"/>
<ellipse cx="428.4" cy="440.9" rx="3.35" ry="2.4" fill="#0000ff"/>
<ellipse cx="443.9" cy="410.7" rx="3.35" ry="2.4" fill="#0000ff"/>
<ellipse cx="459.1" cy="436.4" rx="3.35" ry="2.4" fill="#0000ff"/>
<ellipse cx="474.4" cy="467.4" rx="3.35" ry="2.4" fill="#0000ff"/>
<ellipse cx="489.4" cy="502.1" rx="3.35" ry="2.4" fill="#0000ff"/>
<ellipse cx="505.5" cy="504.8" rx="3.35" ry="2.4" fill="#0000ff"/>
<ellipse cx="520.7" cy="490.2" rx="3.35" ry="2.4" fill="#0000ff"/>
<ellipse cx="535.5" cy="484.8" rx="3.35" ry="2.4" fill="#0000ff"/>
<ellipse cx="551.1" cy="444.6" rx="3.35" ry="2.4" fill="#0000ff"/>
<ellipse cx="566.3" cy="441.4" rx="3.35" ry="2.4" fill="#0000ff"/>
<ellipse cx="581.9" cy="438.4" rx="3.35" ry="2.4" fill="#0000ff"/>
<ellipse cx="597.3" cy="453.5" rx="3.35" ry="2.4" fill="#0000ff"/>
<ellipse cx="612.5" cy="492.3" rx="3.35" ry="2.4" fill="#0000ff"/>
<ellipse cx="627.5" cy="484" rx="3.35" ry="2.4" fill="#0000ff"/>
<rect x="95.8" y="23.9" width="570.1" height="580.1" fill="none" stroke="#000000" stroke-width="2"/>
<line x1="95.8" y1="319.6" x2="665.9" y2="319.6" stroke="#000000" stroke-width="2"/>
<line x1="95.8" y1="270.33" x2="106.3" y2="270.33" stroke="#000000" stroke-width="2"/>
<line x1="95.8" y1="221.05" x2="106.3" y2="221.05" stroke="#000000" stroke-width="2"/>
<line x1="95.8" y1="171.78" x2="106.3" y2="171.78" stroke="#000000" stroke-width="2"/>
<line x1="95.8" y1="122.5" x2="106.3" y2="122.5" stroke="#000000" stroke-width="2"/>
<line x1="95.8" y1="73.23" x2="106.3" y2="73.23" stroke="#000000" stroke-width="2"/>
<line x1="95.8" y1="572.4" x2="106.3" y2="572.4" stroke="#000000" stroke-width="2"/>
<line x1="95.8" y1="540.8" x2="106.3" y2="540.8" stroke="#000000" stroke-width="2"/>
<line x1="95.8" y1="509.2" x2="106.3" y2="509.2" stroke="#000000" stroke-width="2"/>
<line x1="95.8" y1="477.6" x2="106.3" y2="477.6" stroke="#000000" stroke-width="2"/>
<line x1="95.8" y1="446" x2="106.3" y2="446" stroke="#000000" stroke-width="2"/>
<line x1="95.8" y1="414.4" x2="106.3" y2="414.4" stroke="#000000" stroke-width="2"/>
<line x1="95.8" y1="382.8" x2="106.3" y2="382.8" stroke="#000000" stroke-width="2"/>
<line x1="95.8" y1="351.2" x2="106.3" y2="351.2" stroke="#000000" stroke-width="2"/>
<line x1="143.5" y1="319.6" x2="143.5" y2="312.6" stroke="#000000" stroke-width="2"/>
<line x1="143.5" y1="604" x2="143.5" y2="596.4" stroke="#000000" stroke-width="2"/>
<line x1="238.5" y1="319.6" x2="238.5" y2="312.6" stroke="#000000" stroke-width="2"/>
<line x1="238.5" y1="604" x2="238.5" y2="596.4" stroke="#000000" stroke-width="2"/>
<line x1="333.5" y1="319.6" x2="333.5" y2="312.6" stroke="#000000" stroke-width="2"/>
<line x1="333.5" y1="604" x2="333.5" y2="596.4" stroke="#000000" stroke-width="2"/>
<line x1="428.5" y1="319.6" x2="428.5" y2="312.6" stroke="#000000" stroke-width="2"/>
<line x1="428.5" y1="604" x2="428.5" y2="596.4" stroke="#000000" stroke-width="2"/>
<line x1="523.5" y1="319.6" x2="523.5" y2="312.6" stroke="#000000" stroke-width="2"/>
<line x1="523.5" y1="604" x2="523.5" y2="596.4" stroke="#000000" stroke-width="2"/>
<line x1="618.5" y1="319.6" x2="618.5" y2="312.6" stroke="#000000" stroke-width="2"/>
<line x1="618.5" y1="604" x2="618.5" y2="596.4" stroke="#000000" stroke-width="2"/>
<path d="M847.6 470.7 L940 381 L1070.8 251.2 L1255.2 76.5" fill="none" stroke="#ff0000" stroke-width="1.5" stroke-linejoin="round" stroke-linecap="round"/>
<rect x="842.6" y="462.85" width="10.2" height="11.5" fill="#0000ff"/>
<rect x="935.2" y="371.25" width="10.2" height="11.5" fill="#0000ff"/>
<rect x="1065.8" y="244.25" width="10.2" height="11.5" fill="#0000ff"/>
<rect x="1249.9" y="70.25" width="10.2" height="11.5" fill="#0000ff"/>
<polygon points="847.6,463.7 849.33,468.32 854.26,468.54 850.4,471.61 851.71,476.36 847.6,473.64 843.49,476.36 844.8,471.61 840.94,468.54 845.87,468.32" fill="#ff0000"/>
<line x1="847.6" y1="463.2" x2="847.6" y2="478.2" stroke="#ff0000" stroke-width="1.3"/>
<polygon points="940,374 941.73,378.62 946.66,378.84 942.8,381.91 944.11,386.66 940,383.94 935.89,386.66 937.2,381.91 933.34,378.84 938.27,378.62" fill="#ff0000"/>
<line x1="940" y1="373.5" x2="940" y2="388.5" stroke="#ff0000" stroke-width="1.3"/>
<polygon points="1070.8,244.2 1072.53,248.82 1077.46,249.04 1073.6,252.11 1074.91,256.86 1070.8,254.14 1066.69,256.86 1068,252.11 1064.14,249.04 1069.07,248.82" fill="#ff0000"/>
<line x1="1070.8" y1="243.7" x2="1070.8" y2="258.7" stroke="#ff0000" stroke-width="1.3"/>
<polygon points="1255.2,69.5 1256.93,74.12 1261.86,74.34 1258,77.41 1259.31,82.16 1255.2,79.44 1251.09,82.16 1252.4,77.41 1248.54,74.34 1253.47,74.12" fill="#ff0000"/>
<line x1="1255.2" y1="69" x2="1255.2" y2="84" stroke="#ff0000" stroke-width="1.3"/>
<path d="M847.7 468.6 L940.3 377 L1070.9 250 L1255 76" fill="none" stroke="#0000ff" stroke-width="1.5" stroke-linejoin="round" stroke-linecap="round"/>
<rect x="756.2" y="25.9" width="591.9" height="553.3" fill="none" stroke="#000000" stroke-width="2"/>
<line x1="756.2" y1="523.84" x2="761" y2="523.84" stroke="#000000" stroke-width="2"/>
<line x1="756.2" y1="468.48" x2="765.9" y2="468.48" stroke="#000000" stroke-width="2"/>
<line x1="756.2" y1="413.12" x2="761" y2="413.12" stroke="#000000" stroke-width="2"/>
<line x1="756.2" y1="357.76" x2="765.9" y2="357.76" stroke="#000000" stroke-width="2"/>
<line x1="756.2" y1="302.4" x2="761" y2="302.4" stroke="#000000" stroke-width="2"/>
<line x1="756.2" y1="247.04" x2="765.9" y2="247.04" stroke="#000000" stroke-width="2"/>
<line x1="756.2" y1="191.68" x2="761" y2="191.68" stroke="#000000" stroke-width="2"/>
<line x1="756.2" y1="136.32" x2="765.9" y2="136.32" stroke="#000000" stroke-width="2"/>
<line x1="756.2" y1="80.96" x2="761" y2="80.96" stroke="#000000" stroke-width="2"/>
<line x1="821.9" y1="579.2" x2="821.9" y2="573.6" stroke="#000000" stroke-width="2"/>
<line x1="887.6" y1="579.2" x2="887.6" y2="569.4" stroke="#000000" stroke-width="2"/>
<line x1="953.3" y1="579.2" x2="953.3" y2="573.6" stroke="#000000" stroke-width="2"/>
<line x1="1019" y1="579.2" x2="1019" y2="569.4" stroke="#000000" stroke-width="2"/>
<line x1="1084.7" y1="579.2" x2="1084.7" y2="573.6" stroke="#000000" stroke-width="2"/>
<line x1="1150.4" y1="579.2" x2="1150.4" y2="569.4" stroke="#000000" stroke-width="2"/>
<line x1="1216.1" y1="579.2" x2="1216.1" y2="573.6" stroke="#000000" stroke-width="2"/>
<line x1="1281.8" y1="579.2" x2="1281.8" y2="569.4" stroke="#000000" stroke-width="2"/>
<path d="M160.1 970.4 L167.6 949 L175.5 872.5 L183 813.9 L190.5 777.1 L198 716.9 L205.3 797.3 L212.8 839.2 L220.5 878 L227.5 949.6 L235 929.1 L242.5 928 L250.2 907.8 L257.7 943 L265 858.2 L272.5 788.1 L280 796.5 L287.5 795.8 L295 744.4 L302.5 780.4 L310 883.3 L317.5 846.5 L325 892.3 L332.2 923 L339.7 892.8 L347.3 902 L354.5 880 L362 862.4 L369.5 836.1 L377.2 796.5 L384.7 780.4 L392.2 805.3 L399.5 882.4 L407 842.5 L414.5 862.4 L422 850.2 L429.5 832.2 L437 837.7 L444.5 874.5 L452 827.3 L459.2 802.4 L466.7 835 L474.5 880.2 L481.9 839.4 L489.4 836.6 L496.9 833.3 L504.4 833.9 L511.7 876.2 L519.4 832.6 L526.9 852.2 L534.2 854.9 L541.5 815.4 L549.2 817.8 L556.7 830.6 L564.2 820 L571.4 823.3 L579.1 798 L586.4 841 L593.9 865.2 L601.4 843.2 L608.5 839.4 L617.1 812.7" fill="none" stroke="#ff0000" stroke-width="1" stroke-linejoin="round" stroke-linecap="round"/>
<path d="M160.1 944.59 L160.6 942.87 L161.1 941.02 L161.6 939.07 L162.1 937.01 L162.6 934.83 L163.1 932.56 L163.6 930.18 L164.1 927.7 L164.6 925.12 L165.1 922.45 L165.6 919.69 L166.1 916.84 L166.6 913.91 L167.1 910.9 L167.6 907.82 L168.1 904.66 L168.6 901.43 L169.1 898.14 L169.6 894.79 L170.1 891.38 L170.6 887.92 L171.1 884.42 L171.6 880.87 L172.1 877.28 L172.6 873.65 L173.1 870 L173.6 866.31 L174.1 862.61 L174.6 858.89 L175.1 855.16 L175.6 851.42 L176.1 847.68 L176.6 843.94 L177.1 840.2 L177.6 836.47 L178.1 832.76 L178.6 829.07 L179.1 825.41 L179.6 821.77 L180.1 818.17 L180.6 814.6 L181.1 811.07 L181.6 807.59 L182.1 804.16 L182.6 800.79 L183.1 797.48 L183.6 794.22 L184.1 791.04 L184.6 787.92 L185.1 784.88 L185.6 781.92 L186.1 779.04 L186.6 776.24 L187.1 773.54 L187.6 770.92 L188.1 768.4 L188.6 765.98 L189.1 763.66 L189.6 761.45 L190.1 759.34 L190.6 757.34 L191.1 755.46 L191.6 753.68 L192.1 752.03 L192.6 750.49 L193.1 749.07 L193.6 747.78 L194.1 746.61 L194.6 745.56 L195.1 744.64 L195.6 743.85 L196.1 743.18 L196.6 742.65 L197.1 742.24 L197.6 741.97 L198.1 741.82 L198.6 741.81 L199.1 741.92 L199.6 742.15 L200.1 742.51 L200.6 742.99 L201.1 743.59 L201.6 744.31 L202.1 745.15 L202.6 746.11 L203.1 747.19 L203.6 748.39 L204.1 749.7 L204.6 751.12 L205.1 752.66 L205.6 754.3 L206.1 756.06 L206.6 757.91 L207.1 759.88 L207.6 761.94 L208.1 764.11 L208.6 766.36 L209.1 768.72 L209.6 771.16 L210.1 773.69 L210.6 776.31 L211.1 779.01 L211.6 781.78 L212.1 784.63 L212.6 787.55 L213.1 790.54 L213.6 793.6 L214.1 796.71 L214.6 799.88 L215.1 803.1 L215.6 806.38 L216.1 809.7 L216.6 813.06 L217.1 816.45 L217.6 819.88 L218.1 823.34 L218.6 826.82 L219.1 830.33 L219.6 833.85 L220.1 837.38 L220.6 840.92 L221.1 844.46 L221.6 848 L222.1 851.54 L222.6 855.06 L223.1 858.58 L223.6 862.07 L224.1 865.55 L224.6 868.99 L225.1 872.41 L225.6 875.79 L226.1 879.14 L226.6 882.44 L227.1 885.69 L227.6 888.89 L228.1 892.04 L228.6 895.13 L229.1 898.16 L229.6 901.12 L230.1 904.02 L230.6 906.84 L231.1 909.58 L231.6 912.25 L232.1 914.83 L232.6 917.33 L233.1 919.73 L233.6 922.05 L234.1 924.27 L234.6 926.4 L235.1 928.42 L235.6 930.34 L236.1 932.16 L236.6 933.87 L237.1 935.47 L237.6 936.96 L238.1 938.34 L238.6 939.61 L239.1 940.75 L239.6 941.79 L240.1 942.7 L240.6 943.49 L241.1 944.16 L241.6 944.72 L242.1 945.15 L242.6 945.45 L243.1 945.64 L243.6 945.7 L244.1 945.65 L244.6 945.48 L245.1 945.21 L245.6 944.83 L246.1 944.35 L246.6 943.76 L247.1 943.06 L247.6 942.25 L248.1 941.34 L248.6 940.33 L249.1 939.22 L249.6 938.01 L250.1 936.7 L250.6 935.29 L251.1 933.78 L251.6 932.18 L252.1 930.49 L252.6 928.71 L253.1 926.84 L253.6 924.89 L254.1 922.85 L254.6 920.74 L255.1 918.54 L255.6 916.27 L256.1 913.93 L256.6 911.52 L257.1 909.04 L257.6 906.5 L258.1 903.9 L258.6 901.24 L259.1 898.53 L259.6 895.77 L260.1 892.96 L260.6 890.11 L261.1 887.21 L261.6 884.28 L262.1 881.32 L262.6 878.33 L263.1 875.31 L263.6 872.27 L264.1 869.22 L264.6 866.15 L265.1 863.06 L265.6 859.97 L266.1 856.88 L266.6 853.79 L267.1 850.7 L267.6 847.62 L268.1 844.56 L268.6 841.51 L269.1 838.48 L269.6 835.47 L270.1 832.49 L270.6 829.54 L271.1 826.62 L271.6 823.75 L272.1 820.91 L272.6 818.12 L273.1 815.38 L273.6 812.69 L274.1 810.05 L274.6 807.48 L275.1 804.96 L275.6 802.51 L276.1 800.12 L276.6 797.81 L277.1 795.57 L277.6 793.41 L278.1 791.32 L278.6 789.32 L279.1 787.4 L279.6 785.57 L280.1 783.82 L280.6 782.17 L281.1 780.61 L281.6 779.14 L282.1 777.77 L282.6 776.5 L283.1 775.32 L283.6 774.25 L284.1 773.28 L284.6 772.41 L285.1 771.65 L285.6 770.99 L286.1 770.44 L286.6 770 L287.1 769.67 L287.6 769.44 L288.1 769.32 L288.6 769.31 L289.1 769.38 L289.6 769.55 L290.1 769.8 L290.6 770.13 L291.1 770.55 L291.6 771.05 L292.1 771.64 L292.6 772.31 L293.1 773.06 L293.6 773.89 L294.1 774.8 L294.6 775.8 L295.1 776.86 L295.6 778.01 L296.1 779.23 L296.6 780.53 L297.1 781.89 L297.6 783.33 L298.1 784.83 L298.6 786.4 L299.1 788.04 L299.6 789.74 L300.1 791.5 L300.6 793.31 L301.1 795.19 L301.6 797.11 L302.1 799.09 L302.6 801.12 L303.1 803.19 L303.6 805.31 L304.1 807.46 L304.6 809.66 L305.1 811.89 L305.6 814.15 L306.1 816.45 L306.6 818.77 L307.1 821.11 L307.6 823.48 L308.1 825.86 L308.6 828.26 L309.1 830.68 L309.6 833.1 L310.1 835.53 L310.6 837.96 L311.1 840.39 L311.6 842.82 L312.1 845.24 L312.6 847.66 L313.1 850.06 L313.6 852.45 L314.1 854.82 L314.6 857.17 L315.1 859.49 L315.6 861.79 L316.1 864.06 L316.6 866.3 L317.1 868.5 L317.6 870.67 L318.1 872.79 L318.6 874.87 L319.1 876.91 L319.6 878.89 L320.1 880.83 L320.6 882.72 L321.1 884.54 L321.6 886.31 L322.1 888.02 L322.6 889.67 L323.1 891.26 L323.6 892.78 L324.1 894.23 L324.6 895.61 L325.1 896.92 L325.6 898.15 L326.1 899.31 L326.6 900.4 L327.1 901.4 L327.6 902.33 L328.1 903.18 L328.6 903.95 L329.1 904.64 L329.6 905.24 L330.1 905.76 L330.6 906.19 L331.1 906.54 L331.6 906.81 L332.1 906.99 L332.6 907.08 L333.1 907.1 L333.6 907.04 L334.1 906.93 L334.6 906.76 L335.1 906.53 L335.6 906.24 L336.1 905.89 L336.6 905.49 L337.1 905.03 L337.6 904.51 L338.1 903.94 L338.6 903.31 L339.1 902.63 L339.6 901.89 L340.1 901.1 L340.6 900.26 L341.1 899.37 L341.6 898.43 L342.1 897.44 L342.6 896.4 L343.1 895.31 L343.6 894.19 L344.1 893.01 L344.6 891.8 L345.1 890.55 L345.6 889.25 L346.1 887.92 L346.6 886.56 L347.1 885.16 L347.6 883.72 L348.1 882.26 L348.6 880.77 L349.1 879.25 L349.6 877.71 L350.1 876.14 L350.6 874.55 L351.1 872.94 L351.6 871.32 L352.1 869.68 L352.6 868.02 L353.1 866.35 L353.6 864.68 L354.1 863 L354.6 861.31 L355.1 859.62 L355.6 857.92 L356.1 856.23 L356.6 854.54 L357.1 852.86 L357.6 851.18 L358.1 849.51 L358.6 847.85 L359.1 846.21 L359.6 844.58 L360.1 842.97 L360.6 841.38 L361.1 839.81 L361.6 838.26 L362.1 836.73 L362.6 835.23 L363.1 833.77 L363.6 832.33 L364.1 830.92 L364.6 829.55 L365.1 828.21 L365.6 826.91 L366.1 825.65 L366.6 824.43 L367.1 823.25 L367.6 822.11 L368.1 821.02 L368.6 819.97 L369.1 818.97 L369.6 818.02 L370.1 817.11 L370.6 816.26 L371.1 815.46 L371.6 814.72 L372.1 814.02 L372.6 813.38 L373.1 812.8 L373.6 812.27 L374.1 811.8 L374.6 811.38 L375.1 811.02 L375.6 810.72 L376.1 810.48 L376.6 810.3 L377.1 810.18 L377.6 810.11 L378.1 810.1 L378.6 810.14 L379.1 810.2 L379.6 810.31 L380.1 810.45 L380.6 810.62 L381.1 810.83 L381.6 811.08 L382.1 811.36 L382.6 811.67 L383.1 812.02 L383.6 812.4 L384.1 812.82 L384.6 813.26 L385.1 813.74 L385.6 814.25 L386.1 814.8 L386.6 815.37 L387.1 815.97 L387.6 816.6 L388.1 817.26 L388.6 817.94 L389.1 818.65 L389.6 819.39 L390.1 820.15 L390.6 820.93 L391.1 821.74 L391.6 822.57 L392.1 823.42 L392.6 824.29 L393.1 825.18 L393.6 826.08 L394.1 827 L394.6 827.94 L395.1 828.89 L395.6 829.85 L396.1 830.82 L396.6 831.81 L397.1 832.8 L397.6 833.8 L398.1 834.81 L398.6 835.83 L399.1 836.85 L399.6 837.87 L400.1 838.89 L400.6 839.91 L401.1 840.94 L401.6 841.96 L402.1 842.98 L402.6 843.99 L403.1 845 L403.6 846 L404.1 846.99 L404.6 847.97 L405.1 848.94 L405.6 849.9 L406.1 850.85 L406.6 851.78 L407.1 852.7 L407.6 853.6 L408.1 854.49 L408.6 855.35 L409.1 856.2 L409.6 857.02 L410.1 857.82 L410.6 858.6 L411.1 859.36 L411.6 860.09 L412.1 860.8 L412.6 861.48 L413.1 862.13 L413.6 862.75 L414.1 863.35 L414.6 863.91 L415.1 864.45 L415.6 864.95 L416.1 865.43 L416.6 865.87 L417.1 866.28 L417.6 866.65 L418.1 866.99 L418.6 867.3 L419.1 867.57 L419.6 867.81 L420.1 868.02 L420.6 868.18 L421.1 868.32 L421.6 868.41 L422.1 868.47 L422.6 868.5 L423.1 868.49 L423.6 868.47 L424.1 868.42 L424.6 868.36 L425.1 868.27 L425.6 868.17 L426.1 868.05 L426.6 867.91 L427.1 867.75 L427.6 867.57 L428.1 867.37 L428.6 867.15 L429.1 866.92 L429.6 866.67 L430.1 866.4 L430.6 866.11 L431.1 865.81 L431.6 865.49 L432.1 865.16 L432.6 864.81 L433.1 864.45 L433.6 864.07 L434.1 863.67 L434.6 863.27 L435.1 862.85 L435.6 862.42 L436.1 861.97 L436.6 861.52 L437.1 861.05 L437.6 860.58 L438.1 860.09 L438.6 859.6 L439.1 859.09 L439.6 858.58 L440.1 858.07 L440.6 857.54 L441.1 857.01 L441.6 856.48 L442.1 855.94 L442.6 855.4 L443.1 854.86 L443.6 854.31 L444.1 853.76 L444.6 853.21 L445.1 852.66 L445.6 852.11 L446.1 851.56 L446.6 851.02 L447.1 850.47 L447.6 849.93 L448.1 849.4 L448.6 848.87 L449.1 848.34 L449.6 847.82 L450.1 847.31 L450.6 846.8 L451.1 846.31 L451.6 845.82 L452.1 845.34 L452.6 844.87 L453.1 844.41 L453.6 843.96 L454.1 843.52 L454.6 843.1 L455.1 842.69 L455.6 842.29 L456.1 841.9 L456.6 841.53 L457.1 841.18 L457.6 840.84 L458.1 840.51 L458.6 840.2 L459.1 839.91 L459.6 839.64 L460.1 839.38 L460.6 839.14 L461.1 838.91 L461.6 838.71 L462.1 838.52 L462.6 838.36 L463.1 838.21 L463.6 838.08 L464.1 837.96 L464.6 837.87 L465.1 837.8 L465.6 837.75 L466.1 837.71 L466.6 837.7 L467.1 837.7 L467.6 837.71 L468.1 837.73 L468.6 837.76 L469.1 837.8 L469.6 837.84 L470.1 837.89 L470.6 837.96 L471.1 838.03 L471.6 838.1 L472.1 838.19 L472.6 838.28 L473.1 838.38 L473.6 838.49 L474.1 838.61 L474.6 838.73 L475.1 838.86 L475.6 839 L476.1 839.15 L476.6 839.3 L477.1 839.46 L477.6 839.62 L478.1 839.79 L478.6 839.97 L479.1 840.15 L479.6 840.34 L480.1 840.53 L480.6 840.73 L481.1 840.94 L481.6 841.15 L482.1 841.36 L482.6 841.58 L483.1 841.8 L483.6 842.03 L484.1 842.25 L484.6 842.49 L485.1 842.72 L485.6 842.96 L486.1 843.2 L486.6 843.44 L487.1 843.69 L487.6 843.93 L488.1 844.18 L488.6 844.43 L489.1 844.68 L489.6 844.93 L490.1 845.17 L490.6 845.42 L491.1 845.67 L491.6 845.92 L492.1 846.17 L492.6 846.41 L493.1 846.66 L493.6 846.9 L494.1 847.14 L494.6 847.38 L495.1 847.61 L495.6 847.85 L496.1 848.07 L496.6 848.3 L497.1 848.52 L497.6 848.74 L498.1 848.95 L498.6 849.16 L499.1 849.37 L499.6 849.57 L500.1 849.76 L500.6 849.95 L501.1 850.13 L501.6 850.31 L502.1 850.48 L502.6 850.64 L503.1 850.8 L503.6 850.95 L504.1 851.1 L504.6 851.24 L505.1 851.37 L505.6 851.49 L506.1 851.61 L506.6 851.72 L507.1 851.82 L507.6 851.91 L508.1 852 L508.6 852.07 L509.1 852.14 L509.6 852.21 L510.1 852.26 L510.6 852.3 L511.1 852.34 L511.6 852.37 L512.1 852.39 L512.6 852.4 L513.1 852.4 L513.6 852.4 L514.1 852.39 L514.6 852.38 L515.1 852.37 L515.6 852.36 L516.1 852.34 L516.6 852.31 L517.1 852.29 L517.6 852.26 L518.1 852.23 L518.6 852.19 L519.1 852.16 L519.6 852.12 L520.1 852.07 L520.6 852.03 L521.1 851.98 L521.6 851.92 L522.1 851.87 L522.6 851.81 L523.1 851.75 L523.6 851.69 L524.1 851.62 L524.6 851.55 L525.1 851.48 L525.6 851.41 L526.1 851.34 L526.6 851.26 L527.1 851.18 L527.6 851.1 L528.1 851.02 L528.6 850.94 L529.1 850.85 L529.6 850.76 L530.1 850.68 L530.6 850.59 L531.1 850.5 L531.6 850.4 L532.1 850.31 L532.6 850.22 L533.1 850.13 L533.6 850.03 L534.1 849.94 L534.6 849.84 L535.1 849.75 L535.6 849.65 L536.1 849.55 L536.6 849.46 L537.1 849.36 L537.6 849.27 L538.1 849.17 L538.6 849.08 L539.1 848.99 L539.6 848.9 L540.1 848.8 L540.6 848.71 L541.1 848.62 L541.6 848.54 L542.1 848.45 L542.6 848.36 L543.1 848.28 L543.6 848.2 L544.1 848.12 L544.6 848.04 L545.1 847.96 L545.6 847.89 L546.1 847.82 L546.6 847.75 L547.1 847.68 L547.6 847.61 L548.1 847.55 L548.6 847.49 L549.1 847.43 L549.6 847.38 L550.1 847.32 L550.6 847.27 L551.1 847.23 L551.6 847.18 L552.1 847.14 L552.6 847.11 L553.1 847.07 L553.6 847.04 L554.1 847.01 L554.6 846.99 L555.1 846.96 L555.6 846.94 L556.1 846.93 L556.6 846.92 L557.1 846.91 L557.6 846.9 L558.1 846.9 L558.6 846.9 L559.1 846.9 L559.6 846.91 L560.1 846.91 L560.6 846.92 L561.1 846.93 L561.6 846.94 L562.1 846.95 L562.6 846.96 L563.1 846.98 L563.6 847 L564.1 847.01 L564.6 847.03 L565.1 847.05 L565.6 847.08 L566.1 847.1 L566.6 847.13 L567.1 847.15 L567.6 847.18 L568.1 847.21 L568.6 847.24 L569.1 847.28 L569.6 847.31 L570.1 847.34 L570.6 847.38 L571.1 847.42 L571.6 847.45 L572.1 847.49 L572.6 847.53 L573.1 847.57 L573.6 847.61 L574.1 847.66 L574.6 847.7 L575.1 847.74 L575.6 847.79 L576.1 847.83 L576.6 847.88 L577.1 847.92 L577.6 847.97 L578.1 848.01 L578.6 848.06 L579.1 848.11 L579.6 848.16 L580.1 848.2 L580.6 848.25 L581.1 848.3 L581.6 848.34 L582.1 848.39 L582.6 848.44 L583.1 848.49 L583.6 848.53 L584.1 848.58 L584.6 848.62 L585.1 848.67 L585.6 848.71 L586.1 848.76 L586.6 848.8 L587.1 848.84 L587.6 848.89 L588.1 848.93 L588.6 848.97 L589.1 849.01 L589.6 849.05 L590.1 849.08 L590.6 849.12 L591.1 849.16 L591.6 849.19 L592.1 849.22 L592.6 849.26 L593.1 849.29 L593.6 849.32 L594.1 849.35 L594.6 849.37 L595.1 849.4 L595.6 849.42 L596.1 849.45 L596.6 849.47 L597.1 849.49 L597.6 849.5 L598.1 849.52 L598.6 849.54 L599.1 849.55 L599.6 849.56 L600.1 849.57 L600.6 849.58 L601.1 849.59 L601.6 849.59 L602.1 849.6 L602.6 849.6 L603.1 849.6 L603.6 849.6 L604.1 849.6 L604.6 849.6 L605.1 849.59 L605.6 849.59 L606.1 849.59 L606.6 849.58 L607.1 849.58 L607.6 849.57 L608.1 849.57 L608.6 849.56 L609.1 849.55 L609.6 849.54 L610.1 849.53 L610.6 849.52 L611.1 849.51 L611.6 849.5 L612.1 849.49 L612.6 849.48 L613.1 849.47 L613.6 849.46 L614.1 849.44 L614.6 849.43 L615.1 849.42 L615.6 849.4 L616.1 849.39 L616.6 849.37 L617.1 849.35" fill="none" stroke="#ff0000" stroke-width="3.6" stroke-linejoin="round" stroke-linecap="round"/>
<rect x="156.9" y="968.2" width="6.4" height="4.4" fill="#ff0000"/>
<rect x="164.4" y="946.8" width="6.4" height="4.4" fill="#ff0000"/>
<rect x="172.3" y="870.3" width="6.4" height="4.4" fill="#ff0000"/>
<rect x="179.8" y="811.7" width="6.4" height="4.4" fill="#ff0000"/>
<rect x="187.3" y="774.9" width="6.4" height="4.4" fill="#ff0000"/>
<rect x="194.8" y="714.7" width="6.4" height="4.4" fill="#ff0000"/>
<rect x="202.1" y="795.1" width="6.4" height="4.4" fill="#ff0000"/>
<rect x="209.6" y="837" width="6.4" height="4.4" fill="#ff0000"/>
<rect x="217.3" y="875.8" width="6.4" height="4.4" fill="#ff0000"/>
<rect x="224.3" y="947.4" width="6.4" height="4.4" fill="#ff0000"/>
<rect x="231.8" y="926.9" width="6.4" height="4.4" fill="#ff0000"/>
<rect x="239.3" y="925.8" width="6.4" height="4.4" fill="#ff0000"/>
<rect x="247" y="905.6" width="6.4" height="4.4" fill="#ff0000"/>
<rect x="254.5" y="940.8" width="6.4" height="4.4" fill="#ff0000"/>
<rect x="261.8" y="856" width="6.4" height="4.4" fill="#ff0000"/>
<rect x="269.3" y="785.9" width="6.4" height="4.4" fill="#ff0000"/>
<rect x="276.8" y="794.3" width="6.4" height="4.4" fill="#ff0000"/>
<rect x="284.3" y="793.6" width="6.4" height="4.4" fill="#ff0000"/>
<rect x="291.8" y="742.2" width="6.4" height="4.4" fill="#ff0000"/>
<rect x="299.3" y="778.2" width="6.4" height="4.4" fill="#ff0000"/>
<rect x="306.8" y="881.1" width="6.4" height="4.4" fill="#ff0000"/>
<rect x="314.3" y="844.3" width="6.4" height="4.4" fill="#ff0000"/>
<rect x="321.8" y="890.1" width="6.4" height="4.4" fill="#ff0000"/>
<rect x="329" y="920.8" width="6.4" height="4.4" fill="#ff0000"/>
<rect x="336.5" y="890.6" width="6.4" height="4.4" fill="#ff0000"/>
<rect x="344.1" y="899.8" width="6.4" height="4.4" fill="#ff0000"/>
<rect x="351.3" y="877.8" width="6.4" height="4.4" fill="#ff0000"/>
<rect x="358.8" y="860.2" width="6.4" height="4.4" fill="#ff0000"/>
<rect x="366.3" y="833.9" width="6.4" height="4.4" fill="#ff0000"/>
<rect x="374" y="794.3" width="6.4" height="4.4" fill="#ff0000"/>
<rect x="381.5" y="778.2" width="6.4" height="4.4" fill="#ff0000"/>
<rect x="389" y="803.1" width="6.4" height="4.4" fill="#ff0000"/>
<rect x="396.3" y="880.2" width="6.4" height="4.4" fill="#ff0000"/>
<rect x="403.8" y="840.3" width="6.4" height="4.4" fill="#ff0000"/>
<rect x="411.3" y="860.2" width="6.4" height="4.4" fill="#ff0000"/>
<rect x="418.8" y="848" width="6.4" height="4.4" fill="#ff0000"/>
<rect x="426.3" y="830" width="6.4" height="4.4" fill="#ff0000"/>
<rect x="433.8" y="835.5" width="6.4" height="4.4" fill="#ff0000"/>
<rect x="441.3" y="872.3" width="6.4" height="4.4" fill="#ff0000"/>
<rect x="448.8" y="825.1" width="6.4" height="4.4" fill="#ff0000"/>
<rect x="456" y="800.2" width="6.4" height="4.4" fill="#ff0000"/>
<rect x="463.5" y="832.8" width="6.4" height="4.4" fill="#ff0000"/>
<rect x="471.3" y="878" width="6.4" height="4.4" fill="#ff0000"/>
<rect x="478.7" y="837.2" width="6.4" height="4.4" fill="#ff0000"/>
<rect x="486.2" y="834.4" width="6.4" height="4.4" fill="#ff0000"/>
<rect x="493.7" y="831.1" width="6.4" height="4.4" fill="#ff0000"/>
<rect x="501.2" y="831.7" width="6.4" height="4.4" fill="#ff0000"/>
<rect x="508.5" y="874" width="6.4" height="4.4" fill="#ff0000"/>
<rect x="516.2" y="830.4" width="6.4" height="4.4" fill="#ff0000"/>
<rect x="523.7" y="850" width="6.4" height="4.4" fill="#ff0000"/>
<rect x="531" y="852.7" width="6.4" height="4.4" fill="#ff0000"/>
<rect x="538.3" y="813.2" width="6.4" height="4.4" fill="#ff0000"/>
<rect x="546" y="815.6" width="6.4" height="4.4" fill="#ff0000"/>
<rect x="553.5" y="828.4" width="6.4" height="4.4" fill="#ff0000"/>
<rect x="561" y="817.8" width="6.4" height="4.4" fill="#ff0000"/>
<rect x="568.2" y="821.1" width="6.4" height="4.4" fill="#ff0000"/>
<rect x="575.9" y="795.8" width="6.4" height="4.4" fill="#ff0000"/>
<rect x="583.2" y="838.8" width="6.4" height="4.4" fill="#ff0000"/>
<rect x="590.7" y="863" width="6.4" height="4.4" fill="#ff0000"/>
<rect x="598.2" y="841" width="6.4" height="4.4" fill="#ff0000"/>
<rect x="605.3" y="837.2" width="6.4" height="4.4" fill="#ff0000"/>
<rect x="613.9" y="810.5" width="6.4" height="4.4" fill="#ff0000"/>
<path d="M160.3 1268.1 L162.5 1250 L168 1239 L175.3 1227.6 L183.1 1168.7 L190.6 1117.8 L198.1 1097.7 L205.6 1005.1 L213.1 1052.4 L220.4 1119.1 L227.7 1146.2 L235.4 1217.7 L242.7 1219.2 L250.2 1240.7 L257.7 1221.3 L265.2 1218.9 L272.3 1102.1 L280 1075.9 L287.5 1050 L295 1073.5 L302.3 1114.2 L309.6 1103.8 L317.1 1156.1 L324.6 1149.8 L332.4 1180.9 L339.8 1140.6 L347.3 1177.6 L355 1120.3 L362.3 1133.6 L369.8 1131.7 L377.1 1104.5 L384.6 1086.8 L392.1 1102.1 L399.6 1103.3 L407.4 1137.2 L414.6 1164.4 L422.4 1168.7 L429.4 1170.7 L436.9 1139.7 L444.5 1136.3 L452 1091.2 L459.5 1089 L467 1120 L474.5 1136.5 L482 1088 L489.5 1103.8 L497.1 1153.7 L504.6 1129.2 L511.8 1093.6 L519.4 1156.1 L526.6 1144 L534.1 1113 L541.6 1104.5 L549.2 1151.8 L556.7 1135 L564.2 1116.1 L571.5 1096 L579.2 1122 L586.2 1154.2 L593.8 1097 L601.3 1105.7 L608.3 1128.7 L617.1 1147.4" fill="none" stroke="#0000ff" stroke-width="1" stroke-linejoin="round" stroke-linecap="round"/>
<path d="M160.3 1249.1 L160.8 1249.85 L161.3 1250.56 L161.8 1251.21 L162.3 1251.75 L162.8 1252.16 L163.3 1252.41 L163.8 1252.5 L164.3 1252.42 L164.8 1252.2 L165.3 1251.82 L165.8 1251.29 L166.3 1250.6 L166.8 1249.77 L167.3 1248.79 L167.8 1247.67 L168.3 1246.39 L168.8 1244.98 L169.3 1243.42 L169.8 1241.72 L170.3 1239.89 L170.8 1237.91 L171.3 1235.81 L171.8 1233.58 L172.3 1231.22 L172.8 1228.73 L173.3 1226.13 L173.8 1223.4 L174.3 1220.57 L174.8 1217.62 L175.3 1214.57 L175.8 1211.42 L176.3 1208.17 L176.8 1204.83 L177.3 1201.4 L177.8 1197.89 L178.3 1194.29 L178.8 1190.63 L179.3 1186.89 L179.8 1183.09 L180.3 1179.22 L180.8 1175.31 L181.3 1171.34 L181.8 1167.33 L182.3 1163.29 L182.8 1159.21 L183.3 1155.1 L183.8 1150.97 L184.3 1146.82 L184.8 1142.66 L185.3 1138.5 L185.8 1134.34 L186.3 1130.18 L186.8 1126.03 L187.3 1121.9 L187.8 1117.79 L188.3 1113.71 L188.8 1109.67 L189.3 1105.66 L189.8 1101.69 L190.3 1097.78 L190.8 1093.91 L191.3 1090.11 L191.8 1086.37 L192.3 1082.71 L192.8 1079.11 L193.3 1075.6 L193.8 1072.17 L194.3 1068.83 L194.8 1065.58 L195.3 1062.43 L195.8 1059.38 L196.3 1056.43 L196.8 1053.6 L197.3 1050.87 L197.8 1048.27 L198.3 1045.78 L198.8 1043.42 L199.3 1041.19 L199.8 1039.09 L200.3 1037.11 L200.8 1035.28 L201.3 1033.58 L201.8 1032.02 L202.3 1030.61 L202.8 1029.33 L203.3 1028.21 L203.8 1027.23 L204.3 1026.4 L204.8 1025.71 L205.3 1025.18 L205.8 1024.8 L206.3 1024.58 L206.8 1024.5 L207.3 1024.57 L207.8 1024.77 L208.3 1025.1 L208.8 1025.57 L209.3 1026.18 L209.8 1026.91 L210.3 1027.78 L210.8 1028.77 L211.3 1029.9 L211.8 1031.15 L212.3 1032.53 L212.8 1034.03 L213.3 1035.65 L213.8 1037.39 L214.3 1039.25 L214.8 1041.23 L215.3 1043.31 L215.8 1045.51 L216.3 1047.81 L216.8 1050.21 L217.3 1052.71 L217.8 1055.31 L218.3 1058.01 L218.8 1060.79 L219.3 1063.66 L219.8 1066.6 L220.3 1069.63 L220.8 1072.73 L221.3 1075.9 L221.8 1079.13 L222.3 1082.43 L222.8 1085.78 L223.3 1089.18 L223.8 1092.63 L224.3 1096.12 L224.8 1099.65 L225.3 1103.21 L225.8 1106.8 L226.3 1110.41 L226.8 1114.04 L227.3 1117.69 L227.8 1121.34 L228.3 1125 L228.8 1128.65 L229.3 1132.3 L229.8 1135.94 L230.3 1139.56 L230.8 1143.16 L231.3 1146.73 L231.8 1150.27 L232.3 1153.78 L232.8 1157.25 L233.3 1160.67 L233.8 1164.04 L234.3 1167.36 L234.8 1170.62 L235.3 1173.81 L235.8 1176.94 L236.3 1179.99 L236.8 1182.97 L237.3 1185.87 L237.8 1188.69 L238.3 1191.42 L238.8 1194.06 L239.3 1196.6 L239.8 1199.04 L240.3 1201.39 L240.8 1203.62 L241.3 1205.75 L241.8 1207.77 L242.3 1209.68 L242.8 1211.47 L243.3 1213.14 L243.8 1214.69 L244.3 1216.11 L244.8 1217.42 L245.3 1218.59 L245.8 1219.64 L246.3 1220.56 L246.8 1221.35 L247.3 1222 L247.8 1222.52 L248.3 1222.91 L248.8 1223.17 L249.3 1223.29 L249.8 1223.28 L250.3 1223.15 L250.8 1222.92 L251.3 1222.57 L251.8 1222.1 L252.3 1221.53 L252.8 1220.84 L253.3 1220.04 L253.8 1219.14 L254.3 1218.13 L254.8 1217.01 L255.3 1215.78 L255.8 1214.46 L256.3 1213.03 L256.8 1211.5 L257.3 1209.88 L257.8 1208.16 L258.3 1206.35 L258.8 1204.45 L259.3 1202.47 L259.8 1200.4 L260.3 1198.25 L260.8 1196.02 L261.3 1193.72 L261.8 1191.34 L262.3 1188.9 L262.8 1186.39 L263.3 1183.82 L263.8 1181.19 L264.3 1178.51 L264.8 1175.78 L265.3 1173.01 L265.8 1170.19 L266.3 1167.33 L266.8 1164.44 L267.3 1161.52 L267.8 1158.57 L268.3 1155.61 L268.8 1152.62 L269.3 1149.62 L269.8 1146.61 L270.3 1143.6 L270.8 1140.59 L271.3 1137.58 L271.8 1134.58 L272.3 1131.59 L272.8 1128.62 L273.3 1125.67 L273.8 1122.74 L274.3 1119.84 L274.8 1116.98 L275.3 1114.15 L275.8 1111.37 L276.3 1108.63 L276.8 1105.94 L277.3 1103.3 L277.8 1100.72 L278.3 1098.2 L278.8 1095.74 L279.3 1093.35 L279.8 1091.04 L280.3 1088.79 L280.8 1086.63 L281.3 1084.54 L281.8 1082.54 L282.3 1080.62 L282.8 1078.79 L283.3 1077.06 L283.8 1075.41 L284.3 1073.87 L284.8 1072.42 L285.3 1071.07 L285.8 1069.83 L286.3 1068.69 L286.8 1067.66 L287.3 1066.73 L287.8 1065.91 L288.3 1065.2 L288.8 1064.6 L289.3 1064.12 L289.8 1063.74 L290.3 1063.48 L290.8 1063.34 L291.3 1063.3 L291.8 1063.36 L292.3 1063.49 L292.8 1063.7 L293.3 1063.99 L293.8 1064.35 L294.3 1064.79 L294.8 1065.31 L295.3 1065.9 L295.8 1066.57 L296.3 1067.31 L296.8 1068.12 L297.3 1069 L297.8 1069.96 L298.3 1070.98 L298.8 1072.07 L299.3 1073.23 L299.8 1074.46 L300.3 1075.74 L300.8 1077.09 L301.3 1078.5 L301.8 1079.97 L302.3 1081.49 L302.8 1083.07 L303.3 1084.7 L303.8 1086.38 L304.3 1088.1 L304.8 1089.88 L305.3 1091.69 L305.8 1093.55 L306.3 1095.45 L306.8 1097.38 L307.3 1099.34 L307.8 1101.34 L308.3 1103.37 L308.8 1105.42 L309.3 1107.49 L309.8 1109.59 L310.3 1111.7 L310.8 1113.83 L311.3 1115.97 L311.8 1118.12 L312.3 1120.27 L312.8 1122.44 L313.3 1124.6 L313.8 1126.76 L314.3 1128.91 L314.8 1131.06 L315.3 1133.2 L315.8 1135.32 L316.3 1137.43 L316.8 1139.52 L317.3 1141.59 L317.8 1143.64 L318.3 1145.66 L318.8 1147.65 L319.3 1149.61 L319.8 1151.54 L320.3 1153.42 L320.8 1155.27 L321.3 1157.08 L321.8 1158.85 L322.3 1160.56 L322.8 1162.23 L323.3 1163.85 L323.8 1165.42 L324.3 1166.93 L324.8 1168.39 L325.3 1169.78 L325.8 1171.12 L326.3 1172.39 L326.8 1173.6 L327.3 1174.75 L327.8 1175.83 L328.3 1176.84 L328.8 1177.78 L329.3 1178.65 L329.8 1179.45 L330.3 1180.17 L330.8 1180.83 L331.3 1181.4 L331.8 1181.9 L332.3 1182.33 L332.8 1182.68 L333.3 1182.95 L333.8 1183.14 L334.3 1183.26 L334.8 1183.3 L335.3 1183.27 L335.8 1183.18 L336.3 1183.04 L336.8 1182.84 L337.3 1182.58 L337.8 1182.27 L338.3 1181.9 L338.8 1181.47 L339.3 1180.99 L339.8 1180.45 L340.3 1179.86 L340.8 1179.22 L341.3 1178.52 L341.8 1177.77 L342.3 1176.98 L342.8 1176.13 L343.3 1175.24 L343.8 1174.3 L344.3 1173.31 L344.8 1172.28 L345.3 1171.21 L345.8 1170.09 L346.3 1168.94 L346.8 1167.74 L347.3 1166.51 L347.8 1165.25 L348.3 1163.95 L348.8 1162.62 L349.3 1161.26 L349.8 1159.87 L350.3 1158.46 L350.8 1157.02 L351.3 1155.56 L351.8 1154.08 L352.3 1152.59 L352.8 1151.07 L353.3 1149.54 L353.8 1148 L354.3 1146.45 L354.8 1144.89 L355.3 1143.33 L355.8 1141.76 L356.3 1140.19 L356.8 1138.62 L357.3 1137.05 L357.8 1135.48 L358.3 1133.93 L358.8 1132.38 L359.3 1130.84 L359.8 1129.32 L360.3 1127.81 L360.8 1126.32 L361.3 1124.85 L361.8 1123.4 L362.3 1121.97 L362.8 1120.57 L363.3 1119.19 L363.8 1117.84 L364.3 1116.53 L364.8 1115.24 L365.3 1113.99 L365.8 1112.78 L366.3 1111.6 L366.8 1110.46 L367.3 1109.36 L367.8 1108.3 L368.3 1107.29 L368.8 1106.32 L369.3 1105.4 L369.8 1104.53 L370.3 1103.7 L370.8 1102.92 L371.3 1102.2 L371.8 1101.52 L372.3 1100.9 L372.8 1100.33 L373.3 1099.81 L373.8 1099.35 L374.3 1098.95 L374.8 1098.6 L375.3 1098.31 L375.8 1098.07 L376.3 1097.89 L376.8 1097.77 L377.3 1097.71 L377.8 1097.7 L378.3 1097.74 L378.8 1097.81 L379.3 1097.92 L379.8 1098.07 L380.3 1098.26 L380.8 1098.49 L381.3 1098.75 L381.8 1099.05 L382.3 1099.39 L382.8 1099.77 L383.3 1100.18 L383.8 1100.62 L384.3 1101.1 L384.8 1101.62 L385.3 1102.16 L385.8 1102.75 L386.3 1103.36 L386.8 1104 L387.3 1104.68 L387.8 1105.38 L388.3 1106.11 L388.8 1106.87 L389.3 1107.66 L389.8 1108.47 L390.3 1109.3 L390.8 1110.16 L391.3 1111.04 L391.8 1111.94 L392.3 1112.87 L392.8 1113.81 L393.3 1114.76 L393.8 1115.74 L394.3 1116.73 L394.8 1117.73 L395.3 1118.74 L395.8 1119.76 L396.3 1120.8 L396.8 1121.84 L397.3 1122.89 L397.8 1123.94 L398.3 1125 L398.8 1126.06 L399.3 1127.12 L399.8 1128.18 L400.3 1129.24 L400.8 1130.29 L401.3 1131.34 L401.8 1132.39 L402.3 1133.42 L402.8 1134.45 L403.3 1135.47 L403.8 1136.48 L404.3 1137.47 L404.8 1138.45 L405.3 1139.41 L405.8 1140.36 L406.3 1141.29 L406.8 1142.2 L407.3 1143.09 L407.8 1143.96 L408.3 1144.8 L408.8 1145.62 L409.3 1146.42 L409.8 1147.19 L410.3 1147.93 L410.8 1148.65 L411.3 1149.33 L411.8 1149.99 L412.3 1150.61 L412.8 1151.21 L413.3 1151.77 L413.8 1152.3 L414.3 1152.79 L414.8 1153.25 L415.3 1153.67 L415.8 1154.06 L416.3 1154.42 L416.8 1154.73 L417.3 1155.01 L417.8 1155.25 L418.3 1155.46 L418.8 1155.62 L419.3 1155.75 L419.8 1155.84 L420.3 1155.89 L420.8 1155.9 L421.3 1155.88 L421.8 1155.84 L422.3 1155.77 L422.8 1155.68 L423.3 1155.57 L423.8 1155.43 L424.3 1155.26 L424.8 1155.08 L425.3 1154.87 L425.8 1154.63 L426.3 1154.37 L426.8 1154.09 L427.3 1153.79 L427.8 1153.47 L428.3 1153.12 L428.8 1152.76 L429.3 1152.37 L429.8 1151.96 L430.3 1151.54 L430.8 1151.09 L431.3 1150.63 L431.8 1150.15 L432.3 1149.65 L432.8 1149.14 L433.3 1148.61 L433.8 1148.06 L434.3 1147.5 L434.8 1146.93 L435.3 1146.35 L435.8 1145.75 L436.3 1145.14 L436.8 1144.53 L437.3 1143.9 L437.8 1143.26 L438.3 1142.62 L438.8 1141.97 L439.3 1141.31 L439.8 1140.65 L440.3 1139.99 L440.8 1139.32 L441.3 1138.64 L441.8 1137.97 L442.3 1137.3 L442.8 1136.62 L443.3 1135.95 L443.8 1135.28 L444.3 1134.61 L444.8 1133.95 L445.3 1133.29 L445.8 1132.64 L446.3 1131.99 L446.8 1131.35 L447.3 1130.72 L447.8 1130.1 L448.3 1129.49 L448.8 1128.89 L449.3 1128.3 L449.8 1127.72 L450.3 1127.16 L450.8 1126.61 L451.3 1126.07 L451.8 1125.55 L452.3 1125.05 L452.8 1124.56 L453.3 1124.09 L453.8 1123.64 L454.3 1123.2 L454.8 1122.79 L455.3 1122.4 L455.8 1122.02 L456.3 1121.67 L456.8 1121.33 L457.3 1121.02 L457.8 1120.73 L458.3 1120.47 L458.8 1120.23 L459.3 1120 L459.8 1119.81 L460.3 1119.63 L460.8 1119.49 L461.3 1119.36 L461.8 1119.26 L462.3 1119.18 L462.8 1119.13 L463.3 1119.1 L463.8 1119.1 L464.3 1119.11 L464.8 1119.14 L465.3 1119.18 L465.8 1119.24 L466.3 1119.31 L466.8 1119.39 L467.3 1119.49 L467.8 1119.6 L468.3 1119.72 L468.8 1119.86 L469.3 1120.01 L469.8 1120.17 L470.3 1120.35 L470.8 1120.53 L471.3 1120.74 L471.8 1120.95 L472.3 1121.17 L472.8 1121.41 L473.3 1121.66 L473.8 1121.91 L474.3 1122.18 L474.8 1122.46 L475.3 1122.75 L475.8 1123.05 L476.3 1123.35 L476.8 1123.67 L477.3 1123.99 L477.8 1124.32 L478.3 1124.66 L478.8 1125.01 L479.3 1125.36 L479.8 1125.72 L480.3 1126.08 L480.8 1126.45 L481.3 1126.83 L481.8 1127.2 L482.3 1127.59 L482.8 1127.97 L483.3 1128.36 L483.8 1128.75 L484.3 1129.14 L484.8 1129.53 L485.3 1129.92 L485.8 1130.31 L486.3 1130.71 L486.8 1131.1 L487.3 1131.49 L487.8 1131.88 L488.3 1132.26 L488.8 1132.64 L489.3 1133.02 L489.8 1133.4 L490.3 1133.77 L490.8 1134.13 L491.3 1134.5 L491.8 1134.85 L492.3 1135.2 L492.8 1135.54 L493.3 1135.87 L493.8 1136.2 L494.3 1136.52 L494.8 1136.83 L495.3 1137.13 L495.8 1137.42 L496.3 1137.71 L496.8 1137.98 L497.3 1138.24 L497.8 1138.49 L498.3 1138.73 L498.8 1138.96 L499.3 1139.18 L499.8 1139.39 L500.3 1139.58 L500.8 1139.76 L501.3 1139.93 L501.8 1140.09 L502.3 1140.23 L502.8 1140.36 L503.3 1140.47 L503.8 1140.57 L504.3 1140.66 L504.8 1140.74 L505.3 1140.8 L505.8 1140.84 L506.3 1140.88 L506.8 1140.9 L507.3 1140.9 L507.8 1140.89 L508.3 1140.88 L508.8 1140.85 L509.3 1140.82 L509.8 1140.78 L510.3 1140.73 L510.8 1140.67 L511.3 1140.6 L511.8 1140.53 L512.3 1140.44 L512.8 1140.35 L513.3 1140.25 L513.8 1140.14 L514.3 1140.03 L514.8 1139.9 L515.3 1139.77 L515.8 1139.63 L516.3 1139.49 L516.8 1139.34 L517.3 1139.18 L517.8 1139.01 L518.3 1138.84 L518.8 1138.67 L519.3 1138.48 L519.8 1138.29 L520.3 1138.1 L520.8 1137.9 L521.3 1137.7 L521.8 1137.49 L522.3 1137.28 L522.8 1137.07 L523.3 1136.85 L523.8 1136.63 L524.3 1136.41 L524.8 1136.18 L525.3 1135.96 L525.8 1135.73 L526.3 1135.5 L526.8 1135.26 L527.3 1135.03 L527.8 1134.8 L528.3 1134.57 L528.8 1134.34 L529.3 1134.1 L529.8 1133.87 L530.3 1133.64 L530.8 1133.42 L531.3 1133.19 L531.8 1132.97 L532.3 1132.75 L532.8 1132.53 L533.3 1132.32 L533.8 1132.11 L534.3 1131.9 L534.8 1131.7 L535.3 1131.5 L535.8 1131.31 L536.3 1131.12 L536.8 1130.93 L537.3 1130.76 L537.8 1130.59 L538.3 1130.42 L538.8 1130.26 L539.3 1130.11 L539.8 1129.97 L540.3 1129.83 L540.8 1129.7 L541.3 1129.57 L541.8 1129.46 L542.3 1129.35 L542.8 1129.25 L543.3 1129.16 L543.8 1129.07 L544.3 1129 L544.8 1128.93 L545.3 1128.87 L545.8 1128.82 L546.3 1128.78 L546.8 1128.75 L547.3 1128.72 L547.8 1128.71 L548.3 1128.7 L548.8 1128.7 L549.3 1128.71 L549.8 1128.72 L550.3 1128.74 L550.8 1128.76 L551.3 1128.79 L551.8 1128.82 L552.3 1128.86 L552.8 1128.9 L553.3 1128.94 L553.8 1129 L554.3 1129.05 L554.8 1129.11 L555.3 1129.18 L555.8 1129.25 L556.3 1129.32 L556.8 1129.4 L557.3 1129.49 L557.8 1129.57 L558.3 1129.66 L558.8 1129.76 L559.3 1129.86 L559.8 1129.96 L560.3 1130.06 L560.8 1130.17 L561.3 1130.28 L561.8 1130.4 L562.3 1130.51 L562.8 1130.63 L563.3 1130.76 L563.8 1130.88 L564.3 1131 L564.8 1131.13 L565.3 1131.26 L565.8 1131.39 L566.3 1131.52 L566.8 1131.66 L567.3 1131.79 L567.8 1131.93 L568.3 1132.06 L568.8 1132.2 L569.3 1132.33 L569.8 1132.47 L570.3 1132.6 L570.8 1132.74 L571.3 1132.87 L571.8 1133 L572.3 1133.13 L572.8 1133.26 L573.3 1133.39 L573.8 1133.52 L574.3 1133.65 L574.8 1133.77 L575.3 1133.89 L575.8 1134.01 L576.3 1134.13 L576.8 1134.24 L577.3 1134.35 L577.8 1134.46 L578.3 1134.56 L578.8 1134.66 L579.3 1134.76 L579.8 1134.85 L580.3 1134.94 L580.8 1135.03 L581.3 1135.11 L581.8 1135.19 L582.3 1135.26 L582.8 1135.33 L583.3 1135.4 L583.8 1135.46 L584.3 1135.51 L584.8 1135.56 L585.3 1135.61 L585.8 1135.65 L586.3 1135.69 L586.8 1135.72 L587.3 1135.75 L587.8 1135.77 L588.3 1135.78 L588.8 1135.79 L589.3 1135.8 L589.8 1135.8 L590.3 1135.8 L590.8 1135.79 L591.3 1135.78 L591.8 1135.77 L592.3 1135.76 L592.8 1135.74 L593.3 1135.72 L593.8 1135.69 L594.3 1135.66 L594.8 1135.63 L595.3 1135.6 L595.8 1135.57 L596.3 1135.53 L596.8 1135.49 L597.3 1135.44 L597.8 1135.4 L598.3 1135.35 L598.8 1135.3 L599.3 1135.24 L599.8 1135.19 L600.3 1135.13 L600.8 1135.07 L601.3 1135.01 L601.8 1134.94 L602.3 1134.88 L602.8 1134.81 L603.3 1134.74 L603.8 1134.67 L604.3 1134.6 L604.8 1134.52 L605.3 1134.45 L605.8 1134.37 L606.3 1134.29 L606.8 1134.21 L607.3 1134.14 L607.8 1134.06 L608.3 1133.98 L608.8 1133.89 L609.3 1133.81 L609.8 1133.73 L610.3 1133.65 L610.8 1133.57 L611.3 1133.49 L611.8 1133.41 L612.3 1133.32 L612.8 1133.24 L613.3 1133.16 L613.8 1133.09 L614.3 1133.01 L614.8 1132.93 L615.3 1132.85 L615.8 1132.78 L616.3 1132.7 L616.8 1132.63 L617.3 1132.56" fill="none" stroke="#0000ff" stroke-width="3.6" stroke-linejoin="round" stroke-linecap="round"/>
<ellipse cx="160.3" cy="1268.1" rx="3.5" ry="2.4" fill="#0000ff"/>
<ellipse cx="162.5" cy="1250" rx="3.5" ry="2.4" fill="#0000ff"/>
<ellipse cx="168" cy="1239" rx="3.5" ry="2.4" fill="#0000ff"/>
<ellipse cx="175.3" cy="1227.6" rx="3.5" ry="2.4" fill="#0000ff"/>
<ellipse cx="183.1" cy="1168.7" rx="3.5" ry="2.4" fill="#0000ff"/>
<ellipse cx="190.6" cy="1117.8" rx="3.5" ry="2.4" fill="#0000ff"/>
<ellipse cx="198.1" cy="1097.7" rx="3.5" ry="2.4" fill="#0000ff"/>
<ellipse cx="205.6" cy="1005.1" rx="3.5" ry="2.4" fill="#0000ff"/>
<ellipse cx="213.1" cy="1052.4" rx="3.5" ry="2.4" fill="#0000ff"/>
<ellipse cx="220.4" cy="1119.1" rx="3.5" ry="2.4" fill="#0000ff"/>
<ellipse cx="227.7" cy="1146.2" rx="3.5" ry="2.4" fill="#0000ff"/>
<ellipse cx="235.4" cy="1217.7" rx="3.5" ry="2.4" fill="#0000ff"/>
<ellipse cx="242.7" cy="1219.2" rx="3.5" ry="2.4" fill="#0000ff"/>
<ellipse cx="250.2" cy="1240.7" rx="3.5" ry="2.4" fill="#0000ff"/>
<ellipse cx="257.7" cy="1221.3" rx="3.5" ry="2.4" fill="#0000ff"/>
<ellipse cx="265.2" cy="1218.9" rx="3.5" ry="2.4" fill="#0000ff"/>
<ellipse cx="272.3" cy="1102.1" rx="3.5" ry="2.4" fill="#0000ff"/>
<ellipse cx="280" cy="1075.9" rx="3.5" ry="2.4" fill="#0000ff"/>
<ellipse cx="287.5" cy="1050" rx="3.5" ry="2.4" fill="#0000ff"/>
<ellipse cx="295" cy="1073.5" rx="3.5" ry="2.4" fill="#0000ff"/>
<ellipse cx="302.3" cy="1114.2" rx="3.5" ry="2.4" fill="#0000ff"/>
<ellipse cx="309.6" cy="1103.8" rx="3.5" ry="2.4" fill="#0000ff"/>
<ellipse cx="317.1" cy="1156.1" rx="3.5" ry="2.4" fill="#0000ff"/>
<ellipse cx="324.6" cy="1149.8" rx="3.5" ry="2.4" fill="#0000ff"/>
<ellipse cx="332.4" cy="1180.9" rx="3.5" ry="2.4" fill="#0000ff"/>
<ellipse cx="339.8" cy="1140.6" rx="3.5" ry="2.4" fill="#0000ff"/>
<ellipse cx="347.3" cy="1177.6" rx="3.5" ry="2.4" fill="#0000ff"/>
<ellipse cx="355" cy="1120.3" rx="3.5" ry="2.4" fill="#0000ff"/>
<ellipse cx="362.3" cy="1133.6" rx="3.5" ry="2.4" fill="#0000ff"/>
<ellipse cx="369.8" cy="1131.7" rx="3.5" ry="2.4" fill="#0000ff"/>
<ellipse cx="377.1" cy="1104.5" rx="3.5" ry="2.4" fill="#0000ff"/>
<ellipse cx="384.6" cy="1086.8" rx="3.5" ry="2.4" fill="#0000ff"/>
<ellipse cx="392.1" cy="1102.1" rx="3.5" ry="2.4" fill="#0000ff"/>
<ellipse cx="399.6" cy="1103.3" rx="3.5" ry="2.4" fill="#0000ff"/>
<ellipse cx="407.4" cy="1137.2" rx="3.5" ry="2.4" fill="#0000ff"/>
<ellipse cx="414.6" cy="1164.4" rx="3.5" ry="2.4" fill="#0000ff"/>
<ellipse cx="422.4" cy="1168.7" rx="3.5" ry="2.4" fill="#0000ff"/>
<ellipse cx="429.4" cy="1170.7" rx="3.5" ry="2.4" fill="#0000ff"/>
<ellipse cx="436.9" cy="1139.7" rx="3.5" ry="2.4" fill="#0000ff"/>
<ellipse cx="444.5" cy="1136.3" rx="3.5" ry="2.4" fill="#0000ff"/>
<ellipse cx="452" cy="1091.2" rx="3.5" ry="2.4" fill="#0000ff"/>
<ellipse cx="459.5" cy="1089" rx="3.5" ry="2.4" fill="#0000ff"/>
<ellipse cx="467" cy="1120" rx="3.5" ry="2.4" fill="#0000ff"/>
<ellipse cx="474.5" cy="1136.5" rx="3.5" ry="2.4" fill="#0000ff"/>
<ellipse cx="482" cy="1088" rx="3.5" ry="2.4" fill="#0000ff"/>
<ellipse cx="489.5" cy="1103.8" rx="3.5" ry="2.4" fill="#0000ff"/>
<ellipse cx="497.1" cy="1153.7" rx="3.5" ry="2.4" fill="#0000ff"/>
<ellipse cx="504.6" cy="1129.2" rx="3.5" ry="2.4" fill="#0000ff"/>
<ellipse cx="511.8" cy="1093.6" rx="3.5" ry="2.4" fill="#0000ff"/>
<ellipse cx="519.4" cy="1156.1" rx="3.5" ry="2.4" fill="#0000ff"/>
<ellipse cx="526.6" cy="1144" rx="3.5" ry="2.4" fill="#0000ff"/>
<ellipse cx="534.1" cy="1113" rx="3.5" ry="2.4" fill="#0000ff"/>
<ellipse cx="541.6" cy="1104.5" rx="3.5" ry="2.4" fill="#0000ff"/>
<ellipse cx="549.2" cy="1151.8" rx="3.5" ry="2.4" fill="#0000ff"/>
<ellipse cx="556.7" cy="1135" rx="3.5" ry="2.4" fill="#0000ff"/>
<ellipse cx="564.2" cy="1116.1" rx="3.5" ry="2.4" fill="#0000ff"/>
<ellipse cx="571.5" cy="1096" rx="3.5" ry="2.4" fill="#0000ff"/>
<ellipse cx="579.2" cy="1122" rx="3.5" ry="2.4" fill="#0000ff"/>
<ellipse cx="586.2" cy="1154.2" rx="3.5" ry="2.4" fill="#0000ff"/>
<ellipse cx="593.8" cy="1097" rx="3.5" ry="2.4" fill="#0000ff"/>
<ellipse cx="601.3" cy="1105.7" rx="3.5" ry="2.4" fill="#0000ff"/>
<ellipse cx="608.3" cy="1128.7" rx="3.5" ry="2.4" fill="#0000ff"/>
<ellipse cx="617.1" cy="1147.4" rx="3.5" ry="2.4" fill="#0000ff"/>
<rect x="98" y="702.2" width="570" height="581.2" fill="none" stroke="#000000" stroke-width="2"/>
<line x1="98" y1="974.3" x2="668" y2="974.3" stroke="#000000" stroke-width="2"/>
<line x1="98" y1="947.09" x2="103.5" y2="947.09" stroke="#000000" stroke-width="2"/>
<line x1="98" y1="919.88" x2="108.8" y2="919.88" stroke="#000000" stroke-width="2"/>
<line x1="98" y1="892.67" x2="103.5" y2="892.67" stroke="#000000" stroke-width="2"/>
<line x1="98" y1="865.46" x2="108.8" y2="865.46" stroke="#000000" stroke-width="2"/>
<line x1="98" y1="838.25" x2="103.5" y2="838.25" stroke="#000000" stroke-width="2"/>
<line x1="98" y1="811.04" x2="108.8" y2="811.04" stroke="#000000" stroke-width="2"/>
<line x1="98" y1="783.83" x2="103.5" y2="783.83" stroke="#000000" stroke-width="2"/>
<line x1="98" y1="756.62" x2="108.8" y2="756.62" stroke="#000000" stroke-width="2"/>
<line x1="98" y1="729.41" x2="103.5" y2="729.41" stroke="#000000" stroke-width="2"/>
<line x1="98" y1="1239.3" x2="103.5" y2="1239.3" stroke="#000000" stroke-width="2"/>
<line x1="98" y1="1195.2" x2="108.4" y2="1195.2" stroke="#000000" stroke-width="2"/>
<line x1="98" y1="1151.1" x2="103.5" y2="1151.1" stroke="#000000" stroke-width="2"/>
<line x1="98" y1="1107" x2="108.4" y2="1107" stroke="#000000" stroke-width="2"/>
<line x1="98" y1="1062.9" x2="103.5" y2="1062.9" stroke="#000000" stroke-width="2"/>
<line x1="98" y1="1018.8" x2="108.4" y2="1018.8" stroke="#000000" stroke-width="2"/>
<line x1="155" y1="974.3" x2="155" y2="965.5" stroke="#000000" stroke-width="2"/>
<line x1="155" y1="1283.4" x2="155" y2="1274.9" stroke="#000000" stroke-width="2"/>
<line x1="212.1" y1="974.3" x2="212.1" y2="970.1" stroke="#000000" stroke-width="2"/>
<line x1="212.1" y1="1283.4" x2="212.1" y2="1279.4" stroke="#000000" stroke-width="2"/>
<line x1="269.2" y1="974.3" x2="269.2" y2="965.5" stroke="#000000" stroke-width="2"/>
<line x1="269.2" y1="1283.4" x2="269.2" y2="1274.9" stroke="#000000" stroke-width="2"/>
<line x1="326.3" y1="974.3" x2="326.3" y2="970.1" stroke="#000000" stroke-width="2"/>
<line x1="326.3" y1="1283.4" x2="326.3" y2="1279.4" stroke="#000000" stroke-width="2"/>
<line x1="383.4" y1="974.3" x2="383.4" y2="965.5" stroke="#000000" stroke-width="2"/>
<line x1="383.4" y1="1283.4" x2="383.4" y2="1274.9" stroke="#000000" stroke-width="2"/>
<line x1="440.5" y1="974.3" x2="440.5" y2="970.1" stroke="#000000" stroke-width="2"/>
<line x1="440.5" y1="1283.4" x2="440.5" y2="1279.4" stroke="#000000" stroke-width="2"/>
<line x1="497.6" y1="974.3" x2="497.6" y2="965.5" stroke="#000000" stroke-width="2"/>
<line x1="497.6" y1="1283.4" x2="497.6" y2="1274.9" stroke="#000000" stroke-width="2"/>
<line x1="554.7" y1="974.3" x2="554.7" y2="970.1" stroke="#000000" stroke-width="2"/>
<line x1="554.7" y1="1283.4" x2="554.7" y2="1279.4" stroke="#000000" stroke-width="2"/>
<line x1="611.8" y1="974.3" x2="611.8" y2="965.5" stroke="#000000" stroke-width="2"/>
<line x1="611.8" y1="1283.4" x2="611.8" y2="1274.9" stroke="#000000" stroke-width="2"/>
<path d="M825.8 734.8 L832.59 774 L839.37 765.6 L846.16 790.1 L852.95 820.8 L859.74 740.3 L866.52 828.9 L873.31 802 L880.1 732.6 L886.88 767.2 L893.67 723.7 L900.46 794.5 L907.25 818.3 L914.03 803.1 L920.82 778.6 L927.61 757 L934.39 805.8 L941.18 812.4 L947.97 746.7 L954.76 763.9 L961.54 750.9 L968.33 758.6 L975.12 827.4 L981.9 863.1 L988.69 814.8 L995.48 778.6 L1002.27 799.2 L1009.05 912.3 L1015.84 847.2 L1022.63 822.5 L1029.41 892 L1036.2 833.8 L1042.99 858.2 L1049.78 943.1 L1056.56 824.1 L1063.35 892.9 L1070.14 861.8 L1076.92 880.5 L1083.71 899.9 L1090.5 890 L1097.29 900.1 L1104.07 913.2 L1110.86 847.2 L1117.65 858.2 L1124.43 932.8 L1131.22 918.2 L1138.01 859.3 L1144.8 883.8 L1151.58 924.4 L1158.37 869.7 L1165.16 877 L1171.94 879.6 L1178.73 902.1 L1185.52 922 L1192.31 919.1 L1199.09 850.1 L1205.88 877 L1212.67 839.5 L1219.45 871.5 L1226.24 954.4 L1233.03 828.7 L1239.82 835.8 L1246.6 907.9 L1253.39 835.3 L1260.18 839.5 L1266.96 895.7 L1273.75 847.9 L1280.54 920.7 L1287.33 828.7 L1294.11 819.7 L1300.9 904.6" fill="none" stroke="#ff0000" stroke-width="1" stroke-linejoin="round" stroke-linecap="round"/>
<path d="M825.9 767.83 L828.28 767.83 L830.66 767.83 L833.03 767.83 L835.41 767.83 L837.79 767.83 L840.17 767.84 L842.55 767.84 L844.92 767.85 L847.3 767.86 L849.68 767.87 L852.06 767.89 L854.44 767.92 L856.81 767.95 L859.19 767.99 L861.57 768.04 L863.95 768.1 L866.33 768.17 L868.7 768.26 L871.08 768.36 L873.46 768.48 L875.84 768.63 L878.22 768.79 L880.59 768.97 L882.97 769.18 L885.35 769.42 L887.73 769.69 L890.11 769.99 L892.48 770.32 L894.86 770.69 L897.24 771.1 L899.62 771.55 L902 772.05 L904.37 772.59 L906.75 773.18 L909.13 773.82 L911.51 774.51 L913.89 775.26 L916.26 776.06 L918.64 776.92 L921.02 777.85 L923.4 778.83 L925.78 779.88 L928.15 781 L930.53 782.18 L932.91 783.43 L935.29 784.75 L937.67 786.14 L940.04 787.59 L942.42 789.11 L944.8 790.71 L947.18 792.36 L949.56 794.09 L951.93 795.88 L954.31 797.73 L956.69 799.64 L959.07 801.61 L961.45 803.64 L963.82 805.72 L966.2 807.84 L968.58 810.01 L970.96 812.22 L973.34 814.46 L975.71 816.73 L978.09 819.02 L980.47 821.33 L982.85 823.66 L985.23 825.99 L987.6 828.32 L989.98 830.64 L992.36 832.95 L994.74 835.25 L997.12 837.51 L999.49 839.75 L1001.87 841.95 L1004.25 844.11 L1006.63 846.21 L1009.01 848.27 L1011.38 850.26 L1013.76 852.19 L1016.14 854.06 L1018.52 855.85 L1020.9 857.57 L1023.27 859.22 L1025.65 860.78 L1028.03 862.27 L1030.41 863.67 L1032.79 864.99 L1035.16 866.23 L1037.54 867.39 L1039.92 868.47 L1042.3 869.48 L1044.68 870.4 L1047.05 871.25 L1049.43 872.04 L1051.81 872.75 L1054.19 873.39 L1056.57 873.98 L1058.94 874.51 L1061.32 874.98 L1063.7 875.4 L1066.08 875.78 L1068.46 876.11 L1070.83 876.4 L1073.21 876.65 L1075.59 876.87 L1077.97 877.06 L1080.35 877.23 L1082.72 877.37 L1085.1 877.49 L1087.48 877.59 L1089.86 877.68 L1092.24 877.75 L1094.61 877.81 L1096.99 877.86 L1099.37 877.91 L1101.75 877.94 L1104.13 877.97 L1106.5 877.99 L1108.88 878.01 L1111.26 878.02 L1113.64 878.03 L1116.02 878.04 L1118.39 878.05 L1120.77 878.05 L1123.15 878.06 L1125.53 878.06 L1127.91 878.06 L1130.28 878.06 L1132.66 878.07 L1135.04 878.07 L1137.42 878.07 L1139.8 878.07 L1142.17 878.07 L1144.55 878.07 L1146.93 878.07 L1149.31 878.07 L1151.69 878.07 L1154.06 878.07 L1156.44 878.07 L1158.82 878.07 L1161.2 878.07 L1163.58 878.07 L1165.95 878.07 L1168.33 878.07 L1170.71 878.07 L1173.09 878.07 L1175.47 878.07 L1177.84 878.07 L1180.22 878.07 L1182.6 878.07 L1184.98 878.07 L1187.36 878.07 L1189.73 878.07 L1192.11 878.07 L1194.49 878.07 L1196.87 878.07 L1199.25 878.07 L1201.62 878.07 L1204 878.07 L1206.38 878.07 L1208.76 878.07 L1211.14 878.07 L1213.51 878.07 L1215.89 878.07 L1218.27 878.07 L1220.65 878.07 L1223.03 878.07 L1225.4 878.07 L1227.78 878.07 L1230.16 878.07 L1232.54 878.07 L1234.92 878.07 L1237.29 878.07 L1239.67 878.07 L1242.05 878.07 L1244.43 878.07 L1246.81 878.07 L1249.18 878.07 L1251.56 878.07 L1253.94 878.07 L1256.32 878.07 L1258.7 878.07 L1261.07 878.07 L1263.45 878.07 L1265.83 878.07 L1268.21 878.07 L1270.59 878.07 L1272.96 878.07 L1275.34 878.07 L1277.72 878.07 L1280.1 878.07 L1282.48 878.07 L1284.85 878.07 L1287.23 878.07 L1289.61 878.07 L1291.99 878.07 L1294.37 878.07 L1296.74 878.07 L1299.12 878.07 L1301.5 878.07" fill="none" stroke="#ff0000" stroke-width="3.2" stroke-linejoin="round" stroke-linecap="round"/>
<rect x="822.55" y="732.7" width="6.5" height="4.2" fill="#ff0000"/>
<rect x="829.34" y="771.9" width="6.5" height="4.2" fill="#ff0000"/>
<rect x="836.12" y="763.5" width="6.5" height="4.2" fill="#ff0000"/>
<rect x="842.91" y="788" width="6.5" height="4.2" fill="#ff0000"/>
<rect x="849.7" y="818.7" width="6.5" height="4.2" fill="#ff0000"/>
<rect x="856.49" y="738.2" width="6.5" height="4.2" fill="#ff0000"/>
<rect x="863.27" y="826.8" width="6.5" height="4.2" fill="#ff0000"/>
<rect x="870.06" y="799.9" width="6.5" height="4.2" fill="#ff0000"/>
<rect x="876.85" y="730.5" width="6.5" height="4.2" fill="#ff0000"/>
<rect x="883.63" y="765.1" width="6.5" height="4.2" fill="#ff0000"/>
<rect x="890.42" y="721.6" width="6.5" height="4.2" fill="#ff0000"/>
<rect x="897.21" y="792.4" width="6.5" height="4.2" fill="#ff0000"/>
<rect x="904" y="816.2" width="6.5" height="4.2" fill="#ff0000"/>
<rect x="910.78" y="801" width="6.5" height="4.2" fill="#ff0000"/>
<rect x="917.57" y="776.5" width="6.5" height="4.2" fill="#ff0000"/>
<rect x="924.36" y="754.9" width="6.5" height="4.2" fill="#ff0000"/>
<rect x="931.14" y="803.7" width="6.5" height="4.2" fill="#ff0000"/>
<rect x="937.93" y="810.3" width="6.5" height="4.2" fill="#ff0000"/>
<rect x="944.72" y="744.6" width="6.5" height="4.2" fill="#ff0000"/>
<rect x="951.51" y="761.8" width="6.5" height="4.2" fill="#ff0000"/>
<rect x="958.29" y="748.8" width="6.5" height="4.2" fill="#ff0000"/>
<rect x="965.08" y="756.5" width="6.5" height="4.2" fill="#ff0000"/>
<rect x="971.87" y="825.3" width="6.5" height="4.2" fill="#ff0000"/>
<rect x="978.65" y="861" width="6.5" height="4.2" fill="#ff0000"/>
<rect x="985.44" y="812.7" width="6.5" height="4.2" fill="#ff0000"/>
<rect x="992.23" y="776.5" width="6.5" height="4.2" fill="#ff0000"/>
<rect x="999.02" y="797.1" width="6.5" height="4.2" fill="#ff0000"/>
<rect x="1005.8" y="910.2" width="6.5" height="4.2" fill="#ff0000"/>
<rect x="1012.59" y="845.1" width="6.5" height="4.2" fill="#ff0000"/>
<rect x="1019.38" y="820.4" width="6.5" height="4.2" fill="#ff0000"/>
<rect x="1026.16" y="889.9" width="6.5" height="4.2" fill="#ff0000"/>
<rect x="1032.95" y="831.7" width="6.5" height="4.2" fill="#ff0000"/>
<rect x="1039.74" y="856.1" width="6.5" height="4.2" fill="#ff0000"/>
<rect x="1046.53" y="941" width="6.5" height="4.2" fill="#ff0000"/>
<rect x="1053.31" y="822" width="6.5" height="4.2" fill="#ff0000"/>
<rect x="1060.1" y="890.8" width="6.5" height="4.2" fill="#ff0000"/>
<rect x="1066.89" y="859.7" width="6.5" height="4.2" fill="#ff0000"/>
<rect x="1073.67" y="878.4" width="6.5" height="4.2" fill="#ff0000"/>
<rect x="1080.46" y="897.8" width="6.5" height="4.2" fill="#ff0000"/>
<rect x="1087.25" y="887.9" width="6.5" height="4.2" fill="#ff0000"/>
<rect x="1094.04" y="898" width="6.5" height="4.2" fill="#ff0000"/>
<rect x="1100.82" y="911.1" width="6.5" height="4.2" fill="#ff0000"/>
<rect x="1107.61" y="845.1" width="6.5" height="4.2" fill="#ff0000"/>
<rect x="1114.4" y="856.1" width="6.5" height="4.2" fill="#ff0000"/>
<rect x="1121.18" y="930.7" width="6.5" height="4.2" fill="#ff0000"/>
<rect x="1127.97" y="916.1" width="6.5" height="4.2" fill="#ff0000"/>
<rect x="1134.76" y="857.2" width="6.5" height="4.2" fill="#ff0000"/>
<rect x="1141.55" y="881.7" width="6.5" height="4.2" fill="#ff0000"/>
<rect x="1148.33" y="922.3" width="6.5" height="4.2" fill="#ff0000"/>
<rect x="1155.12" y="867.6" width="6.5" height="4.2" fill="#ff0000"/>
<rect x="1161.91" y="874.9" width="6.5" height="4.2" fill="#ff0000"/>
<rect x="1168.69" y="877.5" width="6.5" height="4.2" fill="#ff0000"/>
<rect x="1175.48" y="900" width="6.5" height="4.2" fill="#ff0000"/>
<rect x="1182.27" y="919.9" width="6.5" height="4.2" fill="#ff0000"/>
<rect x="1189.06" y="917" width="6.5" height="4.2" fill="#ff0000"/>
<rect x="1195.84" y="848" width="6.5" height="4.2" fill="#ff0000"/>
<rect x="1202.63" y="874.9" width="6.5" height="4.2" fill="#ff0000"/>
<rect x="1209.42" y="837.4" width="6.5" height="4.2" fill="#ff0000"/>
<rect x="1216.2" y="869.4" width="6.5" height="4.2" fill="#ff0000"/>
<rect x="1222.99" y="952.3" width="6.5" height="4.2" fill="#ff0000"/>
<rect x="1229.78" y="826.6" width="6.5" height="4.2" fill="#ff0000"/>
<rect x="1236.57" y="833.7" width="6.5" height="4.2" fill="#ff0000"/>
<rect x="1243.35" y="905.8" width="6.5" height="4.2" fill="#ff0000"/>
<rect x="1250.14" y="833.2" width="6.5" height="4.2" fill="#ff0000"/>
<rect x="1256.93" y="837.4" width="6.5" height="4.2" fill="#ff0000"/>
<rect x="1263.71" y="893.6" width="6.5" height="4.2" fill="#ff0000"/>
<rect x="1270.5" y="845.8" width="6.5" height="4.2" fill="#ff0000"/>
<rect x="1277.29" y="918.6" width="6.5" height="4.2" fill="#ff0000"/>
<rect x="1284.08" y="826.6" width="6.5" height="4.2" fill="#ff0000"/>
<rect x="1290.86" y="817.6" width="6.5" height="4.2" fill="#ff0000"/>
<rect x="1297.65" y="902.5" width="6.5" height="4.2" fill="#ff0000"/>
<path d="M825.8 1051.5 L832.59 1064.3 L839.37 1059.2 L846.16 1042.9 L852.95 1080.8 L859.74 1088.6 L866.52 1073.3 L873.31 1047.8 L880.1 1077.3 L886.88 1080 L893.67 1101.4 L900.46 1097.8 L907.25 1119.9 L914.03 1123.4 L920.82 1106.9 L927.61 1145.2 L934.39 1124.1 L941.18 1130.5 L947.97 1143.7 L954.76 1118.8 L961.54 1143 L968.33 1138.8 L975.12 1199.9 L981.9 1147 L988.69 1165.1 L995.48 1180.1 L1002.27 1204.8 L1009.05 1193.7 L1015.84 1180.1 L1022.63 1166.8 L1029.41 1170.8 L1036.2 1200.4 L1042.99 1181.8 L1049.78 1196.6 L1056.56 1171.9 L1063.35 1201 L1070.14 1227.9 L1076.92 1186 L1083.71 1222.4 L1090.5 1207.2 L1097.29 1194 L1104.07 1220.9 L1110.86 1194.4 L1117.65 1224.8 L1124.43 1202.1 L1131.22 1175.2 L1138.01 1209 L1144.8 1208.7 L1151.58 1239.2 L1158.37 1197.3 L1165.16 1195.5 L1171.94 1198.4 L1178.73 1170.1 L1185.52 1194.6 L1192.31 1218.2 L1199.09 1214.9 L1205.88 1159.8 L1212.67 1190 L1219.45 1197.3 L1226.24 1219.3 L1233.03 1227.5 L1239.82 1230.1 L1246.6 1239.2 L1253.39 1185.1 L1260.18 1229.7 L1266.96 1227.9 L1273.75 1208.7 L1280.54 1169 L1287.33 1207 L1294.11 1210.5 L1300.9 1189.3" fill="none" stroke="#0000ff" stroke-width="1" stroke-linejoin="round" stroke-linecap="round"/>
<path d="M825.9 1064.03 L828.28 1064.05 L830.66 1064.13 L833.03 1064.28 L835.41 1064.49 L837.79 1064.76 L840.17 1065.1 L842.55 1065.51 L844.92 1065.99 L847.3 1066.53 L849.68 1067.14 L852.06 1067.83 L854.44 1068.57 L856.81 1069.39 L859.19 1070.28 L861.57 1071.22 L863.95 1072.24 L866.33 1073.32 L868.7 1074.46 L871.08 1075.66 L873.46 1076.92 L875.84 1078.24 L878.22 1079.62 L880.59 1081.05 L882.97 1082.53 L885.35 1084.07 L887.73 1085.65 L890.11 1087.28 L892.48 1088.96 L894.86 1090.67 L897.24 1092.43 L899.62 1094.22 L902 1096.05 L904.37 1097.92 L906.75 1099.81 L909.13 1101.73 L911.51 1103.68 L913.89 1105.64 L916.26 1107.63 L918.64 1109.64 L921.02 1111.66 L923.4 1113.69 L925.78 1115.74 L928.15 1117.79 L930.53 1119.85 L932.91 1121.91 L935.29 1123.97 L937.67 1126.03 L940.04 1128.08 L942.42 1130.13 L944.8 1132.17 L947.18 1134.2 L949.56 1136.22 L951.93 1138.22 L954.31 1140.2 L956.69 1142.17 L959.07 1144.12 L961.45 1146.04 L963.82 1147.95 L966.2 1149.82 L968.58 1151.68 L970.96 1153.5 L973.34 1155.3 L975.71 1157.06 L978.09 1158.8 L980.47 1160.5 L982.85 1162.17 L985.23 1163.81 L987.6 1165.41 L989.98 1166.98 L992.36 1168.52 L994.74 1170.01 L997.12 1171.47 L999.49 1172.9 L1001.87 1174.29 L1004.25 1175.64 L1006.63 1176.95 L1009.01 1178.23 L1011.38 1179.47 L1013.76 1180.67 L1016.14 1181.83 L1018.52 1182.96 L1020.9 1184.06 L1023.27 1185.11 L1025.65 1186.14 L1028.03 1187.12 L1030.41 1188.07 L1032.79 1188.99 L1035.16 1189.88 L1037.54 1190.73 L1039.92 1191.54 L1042.3 1192.33 L1044.68 1193.09 L1047.05 1193.81 L1049.43 1194.51 L1051.81 1195.17 L1054.19 1195.81 L1056.57 1196.42 L1058.94 1197 L1061.32 1197.56 L1063.7 1198.09 L1066.08 1198.6 L1068.46 1199.08 L1070.83 1199.54 L1073.21 1199.98 L1075.59 1200.4 L1077.97 1200.79 L1080.35 1201.17 L1082.72 1201.53 L1085.1 1201.86 L1087.48 1202.18 L1089.86 1202.49 L1092.24 1202.77 L1094.61 1203.05 L1096.99 1203.3 L1099.37 1203.54 L1101.75 1203.77 L1104.13 1203.99 L1106.5 1204.19 L1108.88 1204.38 L1111.26 1204.56 L1113.64 1204.73 L1116.02 1204.89 L1118.39 1205.03 L1120.77 1205.17 L1123.15 1205.3 L1125.53 1205.43 L1127.91 1205.54 L1130.28 1205.65 L1132.66 1205.75 L1135.04 1205.84 L1137.42 1205.93 L1139.8 1206.01 L1142.17 1206.09 L1144.55 1206.16 L1146.93 1206.22 L1149.31 1206.28 L1151.69 1206.34 L1154.06 1206.39 L1156.44 1206.44 L1158.82 1206.49 L1161.2 1206.53 L1163.58 1206.57 L1165.95 1206.6 L1168.33 1206.63 L1170.71 1206.67 L1173.09 1206.69 L1175.47 1206.72 L1177.84 1206.74 L1180.22 1206.77 L1182.6 1206.79 L1184.98 1206.8 L1187.36 1206.82 L1189.73 1206.84 L1192.11 1206.85 L1194.49 1206.87 L1196.87 1206.88 L1199.25 1206.89 L1201.62 1206.9 L1204 1206.91 L1206.38 1206.92 L1208.76 1206.92 L1211.14 1206.93 L1213.51 1206.94 L1215.89 1206.94 L1218.27 1206.95 L1220.65 1206.95 L1223.03 1206.96 L1225.4 1206.96 L1227.78 1206.97 L1230.16 1206.97 L1232.54 1206.97 L1234.92 1206.98 L1237.29 1206.98 L1239.67 1206.98 L1242.05 1206.98 L1244.43 1206.98 L1246.81 1206.99 L1249.18 1206.99 L1251.56 1206.99 L1253.94 1206.99 L1256.32 1206.99 L1258.7 1206.99 L1261.07 1206.99 L1263.45 1206.99 L1265.83 1206.99 L1268.21 1206.99 L1270.59 1207 L1272.96 1207 L1275.34 1207 L1277.72 1207 L1280.1 1207 L1282.48 1207 L1284.85 1207 L1287.23 1207 L1289.61 1207 L1291.99 1207 L1294.37 1207 L1296.74 1207 L1299.12 1207 L1301.5 1207" fill="none" stroke="#0000ff" stroke-width="3.2" stroke-linejoin="round" stroke-linecap="round"/>
<ellipse cx="825.8" cy="1051.5" rx="3.3" ry="2.1" fill="#0000ff"/>
<ellipse cx="832.59" cy="1064.3" rx="3.3" ry="2.1" fill="#0000ff"/>
<ellipse cx="839.37" cy="1059.2" rx="3.3" ry="2.1" fill="#0000ff"/>
<ellipse cx="846.16" cy="1042.9" rx="3.3" ry="2.1" fill="#0000ff"/>
<ellipse cx="852.95" cy="1080.8" rx="3.3" ry="2.1" fill="#0000ff"/>
<ellipse cx="859.74" cy="1088.6" rx="3.3" ry="2.1" fill="#0000ff"/>
<ellipse cx="866.52" cy="1073.3" rx="3.3" ry="2.1" fill="#0000ff"/>
<ellipse cx="873.31" cy="1047.8" rx="3.3" ry="2.1" fill="#0000ff"/>
<ellipse cx="880.1" cy="1077.3" rx="3.3" ry="2.1" fill="#0000ff"/>
<ellipse cx="886.88" cy="1080" rx="3.3" ry="2.1" fill="#0000ff"/>
<ellipse cx="893.67" cy="1101.4" rx="3.3" ry="2.1" fill="#0000ff"/>
<ellipse cx="900.46" cy="1097.8" rx="3.3" ry="2.1" fill="#0000ff"/>
<ellipse cx="907.25" cy="1119.9" rx="3.3" ry="2.1" fill="#0000ff"/>
<ellipse cx="914.03" cy="1123.4" rx="3.3" ry="2.1" fill="#0000ff"/>
<ellipse cx="920.82" cy="1106.9" rx="3.3" ry="2.1" fill="#0000ff"/>
<ellipse cx="927.61" cy="1145.2" rx="3.3" ry="2.1" fill="#0000ff"/>
<ellipse cx="934.39" cy="1124.1" rx="3.3" ry="2.1" fill="#0000ff"/>
<ellipse cx="941.18" cy="1130.5" rx="3.3" ry="2.1" fill="#0000ff"/>
<ellipse cx="947.97" cy="1143.7" rx="3.3" ry="2.1" fill="#0000ff"/>
<ellipse cx="954.76" cy="1118.8" rx="3.3" ry="2.1" fill="#0000ff"/>
<ellipse cx="961.54" cy="1143" rx="3.3" ry="2.1" fill="#0000ff"/>
<ellipse cx="968.33" cy="1138.8" rx="3.3" ry="2.1" fill="#0000ff"/>
<ellipse cx="975.12" cy="1199.9" rx="3.3" ry="2.1" fill="#0000ff"/>
<ellipse cx="981.9" cy="1147" rx="3.3" ry="2.1" fill="#0000ff"/>
<ellipse cx="988.69" cy="1165.1" rx="3.3" ry="2.1" fill="#0000ff"/>
<ellipse cx="995.48" cy="1180.1" rx="3.3" ry="2.1" fill="#0000ff"/>
<ellipse cx="1002.27" cy="1204.8" rx="3.3" ry="2.1" fill="#0000ff"/>
<ellipse cx="1009.05" cy="1193.7" rx="3.3" ry="2.1" fill="#0000ff"/>
<ellipse cx="1015.84" cy="1180.1" rx="3.3" ry="2.1" fill="#0000ff"/>
<ellipse cx="1022.63" cy="1166.8" rx="3.3" ry="2.1" fill="#0000ff"/>
<ellipse cx="1029.41" cy="1170.8" rx="3.3" ry="2.1" fill="#0000ff"/>
<ellipse cx="1036.2" cy="1200.4" rx="3.3" ry="2.1" fill="#0000ff"/>
<ellipse cx="1042.99" cy="1181.8" rx="3.3" ry="2.1" fill="#0000ff"/>
<ellipse cx="1049.78" cy="1196.6" rx="3.3" ry="2.1" fill="#0000ff"/>
<ellipse cx="1056.56" cy="1171.9" rx="3.3" ry="2.1" fill="#0000ff"/>
<ellipse cx="1063.35" cy="1201" rx="3.3" ry="2.1" fill="#0000ff"/>
<ellipse cx="1070.14" cy="1227.9" rx="3.3" ry="2.1" fill="#0000ff"/>
<ellipse cx="1076.92" cy="1186" rx="3.3" ry="2.1" fill="#0000ff"/>
<ellipse cx="1083.71" cy="1222.4" rx="3.3" ry="2.1" fill="#0000ff"/>
<ellipse cx="1090.5" cy="1207.2" rx="3.3" ry="2.1" fill="#0000ff"/>
<ellipse cx="1097.29" cy="1194" rx="3.3" ry="2.1" fill="#0000ff"/>
<ellipse cx="1104.07" cy="1220.9" rx="3.3" ry="2.1" fill="#0000ff"/>
<ellipse cx="1110.86" cy="1194.4" rx="3.3" ry="2.1" fill="#0000ff"/>
<ellipse cx="1117.65" cy="1224.8" rx="3.3" ry="2.1" fill="#0000ff"/>
<ellipse cx="1124.43" cy="1202.1" rx="3.3" ry="2.1" fill="#0000ff"/>
<ellipse cx="1131.22" cy="1175.2" rx="3.3" ry="2.1" fill="#0000ff"/>
<ellipse cx="1138.01" cy="1209" rx="3.3" ry="2.1" fill="#0000ff"/>
<ellipse cx="1144.8" cy="1208.7" rx="3.3" ry="2.1" fill="#0000ff"/>
<ellipse cx="1151.58" cy="1239.2" rx="3.3" ry="2.1" fill="#0000ff"/>
<ellipse cx="1158.37" cy="1197.3" rx="3.3" ry="2.1" fill="#0000ff"/>
<ellipse cx="1165.16" cy="1195.5" rx="3.3" ry="2.1" fill="#0000ff"/>
<ellipse cx="1171.94" cy="1198.4" rx="3.3" ry="2.1" fill="#0000ff"/>
<ellipse cx="1178.73" cy="1170.1" rx="3.3" ry="2.1" fill="#0000ff"/>
<ellipse cx="1185.52" cy="1194.6" rx="3.3" ry="2.1" fill="#0000ff"/>
<ellipse cx="1192.31" cy="1218.2" rx="3.3" ry="2.1" fill="#0000ff"/>
<ellipse cx="1199.09" cy="1214.9" rx="3.3" ry="2.1" fill="#0000ff"/>
<ellipse cx="1205.88" cy="1159.8" rx="3.3" ry="2.1" fill="#0000ff"/>
<ellipse cx="1212.67" cy="1190" rx="3.3" ry="2.1" fill="#0000ff"/>
<ellipse cx="1219.45" cy="1197.3" rx="3.3" ry="2.1" fill="#0000ff"/>
<ellipse cx="1226.24" cy="1219.3" rx="3.3" ry="2.1" fill="#0000ff"/>
<ellipse cx="1233.03" cy="1227.5" rx="3.3" ry="2.1" fill="#0000ff"/>
<ellipse cx="1239.82" cy="1230.1" rx="3.3" ry="2.1" fill="#0000ff"/>
<ellipse cx="1246.6" cy="1239.2" rx="3.3" ry="2.1" fill="#0000ff"/>
<ellipse cx="1253.39" cy="1185.1" rx="3.3" ry="2.1" fill="#0000ff"/>
<ellipse cx="1260.18" cy="1229.7" rx="3.3" ry="2.1" fill="#0000ff"/>
<ellipse cx="1266.96" cy="1227.9" rx="3.3" ry="2.1" fill="#0000ff"/>
<ellipse cx="1273.75" cy="1208.7" rx="3.3" ry="2.1" fill="#0000ff"/>
<ellipse cx="1280.54" cy="1169" rx="3.3" ry="2.1" fill="#0000ff"/>
<ellipse cx="1287.33" cy="1207" rx="3.3" ry="2.1" fill="#0000ff"/>
<ellipse cx="1294.11" cy="1210.5" rx="3.3" ry="2.1" fill="#0000ff"/>
<ellipse cx="1300.9" cy="1189.3" rx="3.3" ry="2.1" fill="#0000ff"/>
<rect x="778.2" y="697.9" width="569.9" height="565.7" fill="none" stroke="#000000" stroke-width="2"/>
<line x1="778.2" y1="980.8" x2="1348.1" y2="980.8" stroke="#000000" stroke-width="2"/>
<line x1="778.2" y1="948.65" x2="789" y2="948.65" stroke="#000000" stroke-width="2"/>
<line x1="778.2" y1="917.22" x2="783.7" y2="917.22" stroke="#000000" stroke-width="2"/>
<line x1="778.2" y1="885.8" x2="789" y2="885.8" stroke="#000000" stroke-width="2"/>
<line x1="778.2" y1="854.38" x2="783.7" y2="854.38" stroke="#000000" stroke-width="2"/>
<line x1="778.2" y1="822.95" x2="789" y2="822.95" stroke="#000000" stroke-width="2"/>
<line x1="778.2" y1="791.52" x2="783.7" y2="791.52" stroke="#000000" stroke-width="2"/>
<line x1="778.2" y1="760.1" x2="789" y2="760.1" stroke="#000000" stroke-width="2"/>
<line x1="778.2" y1="728.67" x2="783.7" y2="728.67" stroke="#000000" stroke-width="2"/>
<line x1="778.2" y1="1235.2" x2="783.7" y2="1235.2" stroke="#000000" stroke-width="2"/>
<line x1="778.2" y1="1207" x2="789" y2="1207" stroke="#000000" stroke-width="2"/>
<line x1="778.2" y1="1178.8" x2="783.7" y2="1178.8" stroke="#000000" stroke-width="2"/>
<line x1="778.2" y1="1150.6" x2="789" y2="1150.6" stroke="#000000" stroke-width="2"/>
<line x1="778.2" y1="1122.4" x2="783.7" y2="1122.4" stroke="#000000" stroke-width="2"/>
<line x1="778.2" y1="1094.2" x2="789" y2="1094.2" stroke="#000000" stroke-width="2"/>
<line x1="778.2" y1="1066" x2="783.7" y2="1066" stroke="#000000" stroke-width="2"/>
<line x1="778.2" y1="1037.8" x2="789" y2="1037.8" stroke="#000000" stroke-width="2"/>
<line x1="778.2" y1="1009.6" x2="783.7" y2="1009.6" stroke="#000000" stroke-width="2"/>
<line x1="825.9" y1="980.8" x2="825.9" y2="973.1" stroke="#000000" stroke-width="2"/>
<line x1="825.9" y1="1263.6" x2="825.9" y2="1256.6" stroke="#000000" stroke-width="2"/>
<line x1="944.8" y1="980.8" x2="944.8" y2="977" stroke="#000000" stroke-width="2"/>
<line x1="944.8" y1="1263.6" x2="944.8" y2="1259.9" stroke="#000000" stroke-width="2"/>
<line x1="1063.7" y1="980.8" x2="1063.7" y2="973.1" stroke="#000000" stroke-width="2"/>
<line x1="1063.7" y1="1263.6" x2="1063.7" y2="1256.6" stroke="#000000" stroke-width="2"/>
<line x1="1182.6" y1="980.8" x2="1182.6" y2="977" stroke="#000000" stroke-width="2"/>
<line x1="1182.6" y1="1263.6" x2="1182.6" y2="1259.9" stroke="#000000" stroke-width="2"/>
<line x1="1301.5" y1="980.8" x2="1301.5" y2="973.1" stroke="#000000" stroke-width="2"/>
<line x1="1301.5" y1="1263.6" x2="1301.5" y2="1256.6" stroke="#000000" stroke-width="2"/>
<text x="0" y="0" font-family='"Liberation Sans", sans-serif' font-size="42" font-weight="bold" fill="#231815" transform="translate(3.09 27.6) scale(0.8889 1.0000)">a</text>
<text x="0" y="0" font-family='"Liberation Sans", sans-serif' font-size="42" font-weight="bold" fill="#231815" transform="translate(677.16 29.7) scale(1.0682 1.0000)">b</text>
<text x="0" y="0" font-family='"Liberation Sans", sans-serif' font-size="42" font-weight="bold" fill="#231815" transform="translate(-0.15 704.2) scale(0.9012 1.0000)">c</text>
<text x="0" y="0" font-family='"Liberation Sans", sans-serif' font-size="42" font-weight="bold" fill="#231815" transform="translate(687.16 703.5) scale(0.9929 1.0000)">d</text>
<text x="51.45" y="36.91" font-family='"Liberation Serif", serif' font-size="32" fill="#231815">15</text>
<text x="52.1" y="134.26" font-family='"Liberation Serif", serif' font-size="32" fill="#231815">10</text>
<text x="60.95" y="232.71" font-family='"Liberation Serif", serif' font-size="32" fill="#231815">5</text>
<text x="62.3" y="330.16" font-family='"Liberation Serif", serif' font-size="32" fill="#231815">0</text>
<text x="62" y="362.26" font-family='"Liberation Serif", serif' font-size="32" fill="#231815">4</text>
<text x="61.88" y="425.46" font-family='"Liberation Serif", serif' font-size="32" fill="#231815">3</text>
<text x="62.12" y="488.66" font-family='"Liberation Serif", serif' font-size="32" fill="#231815">2</text>
<text x="61.62" y="551.86" font-family='"Liberation Serif", serif' font-size="32" fill="#231815">1</text>
<text x="63.7" y="617.86" font-family='"Liberation Serif", serif' font-size="32" fill="#231815">0</text>
<text x="138.4" y="639" font-family='"Liberation Serif", serif' font-size="32" fill="#231815">0</text>
<text x="217.85 234.48 243.1" y="639" font-family='"Liberation Serif", serif' font-size="32" fill="#231815">0.1</text>
<text x="314.95 331.45 339.95" y="639" font-family='"Liberation Serif", serif' font-size="32" fill="#231815">0.2</text>
<text x="409.25 425.5 433.75" y="639" font-family='"Liberation Serif", serif' font-size="32" fill="#231815">0.3</text>
<text x="504.25 520.12 528" y="639" font-family='"Liberation Serif", serif' font-size="32" fill="#231815">0.4</text>
<text x="599.25 615.5 623.75" y="639" font-family='"Liberation Serif", serif' font-size="32" fill="#231815">0.5</text>
<text x="210.25 234.48 256.47 269.57 287.12 306.86 318.85 340.83 362.82 378.12 397.87 410.96 424.06 446.05 468.04 480.02 495.33 520.36 537.91" y="682.3" font-family='"Liberation Serif", serif' font-size="40" fill="#231815">Pulse duration (µs)</text>
<text x="34.5 62.05 87.15 114.9 127.75 152.55 180.25 205.85 227.5" y="434.6" font-family='"Liberation Serif", serif' font-size="42" fill="#231815" transform="rotate(-90 36 434.6)">ΔPL/PL×10</text>
<text x="250.35" y="413.5" font-family='"Liberation Serif", serif' font-size="20" fill="#231815" transform="rotate(-90 36 434.6)">4</text>
<rect x="486.7" y="59.2" width="9" height="9" fill="#ff0000"/>
<text x="504.95 524.03 543.1 562.18 581.25 591.33 610.4" y="77.8" font-family='"Liberation Serif", serif' font-size="36" fill="#231815">1030 nm</text>
<ellipse cx="488.9" cy="360.9" rx="5" ry="5" fill="#0000ff"/>
<text x="502.35 521.28 540.21 559.14 569.07 588" y="371.7" font-family='"Liberation Serif", serif' font-size="36" fill="#231815">720 nm</text>
<text x="719.15 736.55" y="40.6" font-family='"Liberation Serif", serif' font-size="32" fill="#231815" transform="translate(0 40.6) scale(1 1.0700) translate(0 -40.6)">12</text>
<text x="719.15 736.05" y="149.4" font-family='"Liberation Serif", serif' font-size="32" fill="#231815" transform="translate(0 149.4) scale(1 1.0700) translate(0 -149.4)">10</text>
<text x="724.5" y="261.5" font-family='"Liberation Serif", serif' font-size="32" fill="#231815" transform="translate(0 261.5) scale(1 1.0700) translate(0 -261.5)">8</text>
<text x="724.38" y="371.5" font-family='"Liberation Serif", serif' font-size="32" fill="#231815" transform="translate(0 371.5) scale(1 1.0700) translate(0 -371.5)">6</text>
<text x="723.9" y="483.6" font-family='"Liberation Serif", serif' font-size="32" fill="#231815" transform="translate(0 483.6) scale(1 1.0700) translate(0 -483.6)">4</text>
<text x="724.02" y="589.5" font-family='"Liberation Serif", serif' font-size="32" fill="#231815" transform="translate(0 589.5) scale(1 1.0700) translate(0 -589.5)">2</text>
<text x="742.05 759.3 768.55" y="618.7" font-family='"Liberation Serif", serif' font-size="32" fill="#231815" transform="translate(0 618.7) scale(1 1.0700) translate(0 -618.7)">0.5</text>
<text x="865.05 882.4 891.75" y="617.5" font-family='"Liberation Serif", serif' font-size="32" fill="#231815" transform="translate(0 617.5) scale(1 1.0700) translate(0 -617.5)">1.0</text>
<text x="999.45 1017.05 1026.65" y="617.5" font-family='"Liberation Serif", serif' font-size="32" fill="#231815" transform="translate(0 617.5) scale(1 1.0700) translate(0 -617.5)">1.5</text>
<text x="1129.55 1147.78 1158" y="617.5" font-family='"Liberation Serif", serif' font-size="32" fill="#231815" transform="translate(0 617.5) scale(1 1.0700) translate(0 -617.5)">2.0</text>
<text x="1260.5 1278.38 1288.25" y="617.5" font-family='"Liberation Serif", serif' font-size="32" fill="#231815" transform="translate(0 617.5) scale(1 1.0700) translate(0 -617.5)">2.5</text>
<text x="844.05 868.83 891.37 922.8 943.09" y="669.4" font-family='"Liberation Serif", serif' font-size="40" fill="#231815">Power</text>
<text x="959.55 972.75 981.73" y="650.7" font-family='"Liberation Serif", serif' font-size="19" fill="#231815">1/2</text>
<text x="991.95" y="669.4" font-family='"Liberation Serif", serif' font-size="40" fill="#231815">(</text>
<text x="1002.2" y="669.4" font-family='"Liberation Serif", serif' font-size="40" fill="#231815">W</text>
<text x="1047.45 1060.33 1068.45" y="650.7" font-family='"Liberation Serif", serif' font-size="19" fill="#231815">0.5</text>
<text x="1080.8 1092.98 1105.15 1125.09 1140.58 1162.76 1174.94 1197.12 1219.29 1232.58 1245.87 1263.62" y="669.4" font-family='"Liberation Serif", serif' font-size="40" fill="#231815">, arb.units)</text>
<text x="707.65 731.95 746.87 766.45 788.38 810.32 829.89 851.83 871.41 893.34 904.78 919.7 957.98 989.25 1008.82" y="470.6" font-family='"Liberation Serif", serif' font-size="42" fill="#231815" transform="rotate(-90 708.9 470.6)">Frequency (MHz)</text>
<polygon points="823.7,92.4 825.58,97.42 830.93,97.65 826.74,100.99 828.17,106.15 823.7,103.19 819.23,106.15 820.66,100.99 816.47,97.65 821.82,97.42" fill="#ff0000"/>
<text x="838.15 857.33 876.5 895.67 914.85 925.03 944.2" y="112.1" font-family='"Liberation Serif", serif' font-size="36" fill="#231815">1030 nm</text>
<rect x="819.3" y="137.3" width="11" height="11.4" fill="#0000ff"/>
<text x="844.15 863.58 883.01 902.44 912.87 932.3" y="156.2" font-family='"Liberation Serif", serif' font-size="36" fill="#231815">720 nm</text>
<text x="65.5" y="714.73" font-family='"Liberation Serif", serif' font-size="31" fill="#231815">5</text>
<text x="65.75" y="767.15" font-family='"Liberation Serif", serif' font-size="31" fill="#231815">4</text>
<text x="65.62" y="821.57" font-family='"Liberation Serif", serif' font-size="31" fill="#231815">3</text>
<text x="66" y="875.99" font-family='"Liberation Serif", serif' font-size="31" fill="#231815">2</text>
<text x="65.25" y="930.41" font-family='"Liberation Serif", serif' font-size="31" fill="#231815">1</text>
<text x="65.75" y="984.83" font-family='"Liberation Serif", serif' font-size="31" fill="#231815">0</text>
<text x="47.25 64.83 74.65" y="1029.03" font-family='"Liberation Serif", serif' font-size="31" fill="#231815">1.2</text>
<text x="48.75 65.33 74.15" y="1118.23" font-family='"Liberation Serif", serif' font-size="31" fill="#231815">0.8</text>
<text x="48.75 64.95 73.4" y="1206.03" font-family='"Liberation Serif", serif' font-size="31" fill="#231815">0.4</text>
<text x="61.95" y="1298.73" font-family='"Liberation Serif", serif' font-size="31" fill="#231815">0</text>
<text x="147.45" y="1316.3" font-family='"Liberation Serif", serif' font-size="31" fill="#231815">0</text>
<text x="248.65 265.98 275.55" y="1316.2" font-family='"Liberation Serif", serif' font-size="31" fill="#231815">0.2</text>
<text x="362.05 378.75 387.7" y="1316.2" font-family='"Liberation Serif", serif' font-size="31" fill="#231815">0.4</text>
<text x="476.55 493.5 502.7" y="1316.2" font-family='"Liberation Serif", serif' font-size="31" fill="#231815">0.6</text>
<text x="591.65 608.73 618.05" y="1313.8" font-family='"Liberation Serif", serif' font-size="31" fill="#231815">0.8</text>
<text x="231.6 254.71 273.95 293.18 304.63 323.87 335.32 346.78 366.01 385.25 395.73 407.19 418.64 447.6 464.87 475.35 488.74 510.64 526" y="1352.7" font-family='"Liberation Serif", serif' font-size="35" fill="#231815">Evolution time (µs)</text>
<text x="34.8 62.35 87.45 115.2 128.05 152.85 180.55 206.15 227.8" y="1086.6" font-family='"Liberation Serif", serif' font-size="42" fill="#231815" transform="rotate(-90 36.3 1086.6)">ΔPL/PL×10</text>
<text x="250.65" y="1066.1" font-family='"Liberation Serif", serif' font-size="20" fill="#231815" transform="rotate(-90 36.3 1086.6)">4</text>
<text x="321.5" y="745.4" font-family='"Liberation Serif", serif' font-size="32" font-style="italic" fill="#231815">T</text>
<text x="335.25" y="753" font-family='"Liberation Serif", serif' font-size="20" fill="#231815">2</text>
<text x="341.4" y="733.25" font-family='"Liberation Serif", serif' font-size="21" fill="#231815">*</text>
<text x="0" y="0" font-family='"Liberation Serif", serif' font-size="32" fill="#231815" transform="translate(358.86 746.94) scale(1.1600 1.0000)">=</text>
<text x="383.95 399.85 407.75 423.65" y="745.4" font-family='"Liberation Serif", serif' font-size="32" fill="#231815">0.38</text>
<text x="447.8 467.89" y="745.4" font-family='"Liberation Serif", serif' font-size="32" fill="#231815">µs</text>
<rect x="497.3" y="729" width="8.6" height="9" fill="#ff0000"/>
<text x="514.35 533.64 552.93 572.23 591.52 601.81 621.1" y="746.2" font-family='"Liberation Serif", serif' font-size="36" fill="#231815">1030 nm</text>
<text x="329.3" y="1021.5" font-family='"Liberation Serif", serif' font-size="32" font-style="italic" fill="#231815">T</text>
<text x="343.05" y="1029.1" font-family='"Liberation Serif", serif' font-size="20" fill="#231815">2</text>
<text x="349.2" y="1009.36" font-family='"Liberation Serif", serif' font-size="21" fill="#231815">*</text>
<text x="0" y="0" font-family='"Liberation Serif", serif' font-size="32" fill="#231815" transform="translate(366.59 1023.04) scale(1.2067 1.0000)">=</text>
<text x="392.25 407.98 415.72 431.45" y="1021.5" font-family='"Liberation Serif", serif' font-size="32" fill="#231815">0.35</text>
<text x="455.6 475.89" y="1021.5" font-family='"Liberation Serif", serif' font-size="32" fill="#231815">µs</text>
<ellipse cx="508.5" cy="1011.7" rx="5.1" ry="5.1" fill="#0000ff"/>
<text x="520.55 539.72 558.89 578.06 588.23 607.4" y="1022.3" font-family='"Liberation Serif", serif' font-size="36" fill="#231815">720 nm</text>
<text x="745.12" y="709.98" font-family='"Liberation Serif", serif' font-size="31" fill="#231815">3</text>
<text x="745.5" y="772.83" font-family='"Liberation Serif", serif' font-size="31" fill="#231815">2</text>
<text x="744.75" y="835.68" font-family='"Liberation Serif", serif' font-size="31" fill="#231815">1</text>
<text x="745.25" y="898.53" font-family='"Liberation Serif", serif' font-size="31" fill="#231815">0</text>
<text x="740.38" y="961.38" font-family='"Liberation Serif", serif' font-size="31" fill="#231815">-1</text>
<text x="731.55 748.52 757.75" y="994.13" font-family='"Liberation Serif", serif' font-size="31" fill="#231815">0.8</text>
<text x="731.55 748.4 757.5" y="1050.53" font-family='"Liberation Serif", serif' font-size="31" fill="#231815">0.6</text>
<text x="731.55 748.15 757" y="1106.93" font-family='"Liberation Serif", serif' font-size="31" fill="#231815">0.4</text>
<text x="731.55 748.77 758.25" y="1163.33" font-family='"Liberation Serif", serif' font-size="31" fill="#231815">0.2</text>
<text x="743.75" y="1219.73" font-family='"Liberation Serif", serif' font-size="31" fill="#231815">0</text>
<text x="727.25" y="1276.13" font-family='"Liberation Serif", serif' font-size="31" fill="#231815">-0.2</text>
<text x="820.45" y="1299.1" font-family='"Liberation Serif", serif' font-size="31" fill="#231815">0</text>
<text x="937.3" y="1299.1" font-family='"Liberation Serif", serif' font-size="31" fill="#231815">5</text>
<text x="1047.95" y="1299.1" font-family='"Liberation Serif", serif' font-size="31" fill="#231815">10</text>
<text x="1167.45" y="1299.1" font-family='"Liberation Serif", serif' font-size="31" fill="#231815">15</text>
<text x="1285.6" y="1299.1" font-family='"Liberation Serif", serif' font-size="31" fill="#231815">20</text>
<text x="915.4 938.48 957.69 976.9 988.32 1007.53 1018.96 1030.39 1049.59 1068.8 1079.25 1090.68 1102.11 1131.04 1148.28 1158.73 1172.1 1193.97 1209.3" y="1345.6" font-family='"Liberation Serif", serif' font-size="35" fill="#231815">Evolution time (µs)</text>
<text x="715.5 743.05 768.15 795.9 808.75 833.55 861.25 886.85 908.5" y="1095.8" font-family='"Liberation Serif", serif' font-size="42" fill="#231815" transform="rotate(-90 717 1095.8)">ΔPL/PL×10</text>
<text x="931.35" y="1075.1" font-family='"Liberation Serif", serif' font-size="20" fill="#231815" transform="rotate(-90 717 1095.8)">4</text>
<text x="990.85" y="747.1" font-family='"Liberation Serif", serif' font-size="36" font-style="italic" fill="#231815">T</text>
<text x="1008.85" y="755.6" font-family='"Liberation Serif", serif' font-size="20" fill="#231815">2</text>
<text x="0" y="0" font-family='"Liberation Serif", serif' font-size="36" fill="#231815" transform="translate(1029.85 749.32) scale(1.1164 1.0000)">=</text>
<text x="1059.35 1076.3 1084.25" y="747.1" font-family='"Liberation Serif", serif' font-size="36" fill="#231815">7.1</text>
<text x="1114.05 1134.94" y="747.1" font-family='"Liberation Serif", serif' font-size="36" fill="#231815">µs</text>
<rect x="1159.65" y="726.75" width="9.1" height="9.3" fill="#ff0000"/>
<text x="1176.35 1195.39 1214.43 1233.47 1252.52 1262.56 1281.6" y="744" font-family='"Liberation Serif", serif' font-size="36" fill="#231815">1030 nm</text>
<text x="997.15" y="1022.9" font-family='"Liberation Serif", serif' font-size="36" font-style="italic" fill="#231815">T</text>
<text x="1014.45" y="1031.4" font-family='"Liberation Serif", serif' font-size="20" fill="#231815">2</text>
<text x="0" y="0" font-family='"Liberation Serif", serif' font-size="36" fill="#231815" transform="translate(1034.95 1025.77) scale(1.1164 1.0000)">=</text>
<text x="1064.4 1081.4 1089.4" y="1022.9" font-family='"Liberation Serif", serif' font-size="36" fill="#231815">6.3</text>
<text x="1118.65 1139.24" y="1022.9" font-family='"Liberation Serif", serif' font-size="36" fill="#231815">µs</text>
<ellipse cx="1171.1" cy="1012.2" rx="5.1" ry="5.1" fill="#0000ff"/>
<text x="1182.95 1202.18 1221.41 1240.64 1250.87 1270.1" y="1022.4" font-family='"Liberation Serif", serif' font-size="36" fill="#231815">720 nm</text>
</svg>
</body></html>
